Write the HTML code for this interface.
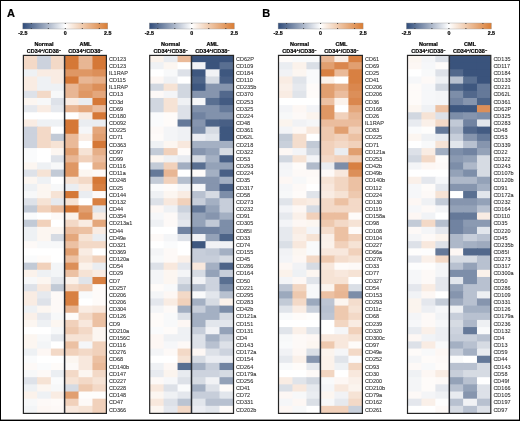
<!DOCTYPE html><html><head><meta charset="utf-8"><style>html,body{margin:0;padding:0;background:#fff;width:520px;height:421px;overflow:hidden}svg{display:block;will-change:transform}text{font-family:"Liberation Sans",sans-serif}.b{font-weight:bold;stroke:#000;stroke-width:0.2px}</style></head><body>
<svg width="520" height="421" viewBox="0 0 520 421">
<defs><linearGradient id="g" x1="0" x2="1" y1="0" y2="0"><stop offset="0" stop-color="#304c7a"/><stop offset="0.5" stop-color="#ffffff"/><stop offset="1" stop-color="#da7d34"/></linearGradient></defs>
<rect x="0" y="0" width="520" height="1" fill="#000"/>
<rect x="0" y="0" width="1" height="421" fill="#000"/>
<rect x="519" y="0" width="1" height="421" fill="#000"/>
<rect x="0" y="419.6" width="520" height="1.4" fill="#000"/>
<text class="b" x="7" y="16.9" font-size="11">A</text>
<text class="b" x="262.3" y="16.9" font-size="11">B</text>
<rect x="22.8" y="23.0" width="85.0" height="6.0" fill="url(#g)" stroke="#9a9a9a" stroke-width="0.4"/>
<rect x="30.8" y="23.0" width="1" height="0.9" fill="#333"/>
<rect x="30.8" y="28.1" width="1" height="0.9" fill="#333"/>
<rect x="47.8" y="23.0" width="1" height="0.9" fill="#333"/>
<rect x="47.8" y="28.1" width="1" height="0.9" fill="#333"/>
<rect x="64.8" y="23.0" width="1" height="0.9" fill="#333"/>
<rect x="64.8" y="28.1" width="1" height="0.9" fill="#333"/>
<rect x="81.8" y="23.0" width="1" height="0.9" fill="#333"/>
<rect x="81.8" y="28.1" width="1" height="0.9" fill="#333"/>
<rect x="98.8" y="23.0" width="1" height="0.9" fill="#333"/>
<rect x="98.8" y="28.1" width="1" height="0.9" fill="#333"/>
<text class="b" x="22.8" y="34.7" font-size="5.3" text-anchor="middle" transform="rotate(0.02 22.8 33)">-2.5</text>
<text class="b" x="65.3" y="34.7" font-size="5.3" text-anchor="middle" transform="rotate(0.02 65.3 33)">0</text>
<text class="b" x="107.8" y="34.7" font-size="5.3" text-anchor="middle" transform="rotate(0.02 107.8 33)">2.5</text>
<text class="b" x="44" y="46.3" font-size="5.5" text-anchor="middle" transform="rotate(0.02 44 44)">Normal</text>
<text class="b" x="85.5" y="46.3" font-size="5.5" text-anchor="middle" transform="rotate(0.02 85.5 44)">AML</text>
<text class="b" x="44" y="52.6" font-size="5.5" text-anchor="middle" transform="rotate(0.02 44 50)">CD34<tspan font-size="4" dy="-1.8">+</tspan><tspan dy="1.8">/CD38</tspan><tspan font-size="4" dy="-1.8">–</tspan></text>
<text class="b" x="85.5" y="52.6" font-size="5.5" text-anchor="middle" transform="rotate(0.02 85.5 50)">CD34<tspan font-size="4" dy="-1.8">+</tspan><tspan dy="1.8">/CD38</tspan><tspan font-size="4" dy="-1.8">–</tspan></text>
<rect x="23.4" y="55" width="14.53" height="7.96" fill="#f3d9c7"/>
<rect x="37.13" y="55" width="14.53" height="7.96" fill="#ccd2dd"/>
<rect x="50.87" y="55" width="14.53" height="7.96" fill="#f3d9c7"/>
<rect x="64.6" y="55" width="14.73" height="7.96" fill="#d57837"/>
<rect x="78.53" y="55" width="14.73" height="7.96" fill="#e8b694"/>
<rect x="92.47" y="55" width="13.93" height="7.96" fill="#d57837"/>
<rect x="23.4" y="62.16" width="14.53" height="7.96" fill="#f3d9c7"/>
<rect x="37.13" y="62.16" width="14.53" height="7.96" fill="#ccd2dd"/>
<rect x="50.87" y="62.16" width="14.53" height="7.96" fill="#f3d9c7"/>
<rect x="64.6" y="62.16" width="14.73" height="7.96" fill="#d57837"/>
<rect x="78.53" y="62.16" width="14.73" height="7.96" fill="#e8b694"/>
<rect x="92.47" y="62.16" width="13.93" height="7.96" fill="#d57837"/>
<rect x="23.4" y="69.32" width="14.53" height="7.96" fill="#eef1f4"/>
<rect x="37.13" y="69.32" width="14.53" height="7.96" fill="#f9ece3"/>
<rect x="50.87" y="69.32" width="14.53" height="7.96" fill="#f9ece3"/>
<rect x="64.6" y="69.32" width="14.73" height="7.96" fill="#df9764"/>
<rect x="78.53" y="69.32" width="14.73" height="7.96" fill="#df9764"/>
<rect x="92.47" y="69.32" width="13.93" height="7.96" fill="#dc8f59"/>
<rect x="23.4" y="76.48" width="14.53" height="7.96" fill="#f9ece3"/>
<rect x="37.13" y="76.48" width="14.53" height="7.96" fill="#eef1f4"/>
<rect x="50.87" y="76.48" width="14.53" height="7.96" fill="#f9ece3"/>
<rect x="64.6" y="76.48" width="14.73" height="7.96" fill="#d57837"/>
<rect x="78.53" y="76.48" width="14.73" height="7.96" fill="#e8b694"/>
<rect x="92.47" y="76.48" width="13.93" height="7.96" fill="#e6af88"/>
<rect x="23.4" y="83.64" width="14.53" height="7.96" fill="#f9ece3"/>
<rect x="37.13" y="83.64" width="14.53" height="7.96" fill="#eef1f4"/>
<rect x="50.87" y="83.64" width="14.53" height="7.96" fill="#eef1f4"/>
<rect x="64.6" y="83.64" width="14.73" height="7.96" fill="#e8b694"/>
<rect x="78.53" y="83.64" width="14.73" height="7.96" fill="#e19f70"/>
<rect x="92.47" y="83.64" width="13.93" height="7.96" fill="#dc8f59"/>
<rect x="23.4" y="90.8" width="14.53" height="7.96" fill="#dee2e9"/>
<rect x="37.13" y="90.8" width="14.53" height="7.96" fill="#f3d9c7"/>
<rect x="50.87" y="90.8" width="14.53" height="7.96" fill="#f7f8f9"/>
<rect x="64.6" y="90.8" width="14.73" height="7.96" fill="#e8b694"/>
<rect x="78.53" y="90.8" width="14.73" height="7.96" fill="#df9764"/>
<rect x="92.47" y="90.8" width="13.93" height="7.96" fill="#e4a77c"/>
<rect x="23.4" y="97.96" width="14.53" height="7.96" fill="#fcf6f1"/>
<rect x="37.13" y="97.96" width="14.53" height="7.96" fill="#f7f8f9"/>
<rect x="50.87" y="97.96" width="14.53" height="7.96" fill="#dee2e9"/>
<rect x="64.6" y="97.96" width="14.73" height="7.96" fill="#f9ece3"/>
<rect x="78.53" y="97.96" width="14.73" height="7.96" fill="#eaedf1"/>
<rect x="92.47" y="97.96" width="13.93" height="7.96" fill="#d57837"/>
<rect x="23.4" y="105.12" width="14.53" height="7.96" fill="#e6e9ee"/>
<rect x="37.13" y="105.12" width="14.53" height="7.96" fill="#f9ece3"/>
<rect x="50.87" y="105.12" width="14.53" height="7.96" fill="#e6e9ee"/>
<rect x="64.6" y="105.12" width="14.73" height="7.96" fill="#e8b694"/>
<rect x="78.53" y="105.12" width="14.73" height="7.96" fill="#e4a77c"/>
<rect x="92.47" y="105.12" width="13.93" height="7.96" fill="#ebbd9e"/>
<rect x="23.4" y="112.28" width="14.53" height="7.96" fill="#ffffff"/>
<rect x="37.13" y="112.28" width="14.53" height="7.96" fill="#ffffff"/>
<rect x="50.87" y="112.28" width="14.53" height="7.96" fill="#ffffff"/>
<rect x="64.6" y="112.28" width="14.73" height="7.96" fill="#ffffff"/>
<rect x="78.53" y="112.28" width="14.73" height="7.96" fill="#f9ece3"/>
<rect x="92.47" y="112.28" width="13.93" height="7.96" fill="#d57837"/>
<rect x="23.4" y="119.44" width="14.53" height="7.96" fill="#f9ece3"/>
<rect x="37.13" y="119.44" width="14.53" height="7.96" fill="#eef1f4"/>
<rect x="50.87" y="119.44" width="14.53" height="7.96" fill="#eef1f4"/>
<rect x="64.6" y="119.44" width="14.73" height="7.96" fill="#d57837"/>
<rect x="78.53" y="119.44" width="14.73" height="7.96" fill="#eaedf1"/>
<rect x="92.47" y="119.44" width="13.93" height="7.96" fill="#eaedf1"/>
<rect x="23.4" y="126.6" width="14.53" height="7.96" fill="#ccd2dd"/>
<rect x="37.13" y="126.6" width="14.53" height="7.96" fill="#f3d9c7"/>
<rect x="50.87" y="126.6" width="14.53" height="7.96" fill="#ffffff"/>
<rect x="64.6" y="126.6" width="14.73" height="7.96" fill="#d57837"/>
<rect x="78.53" y="126.6" width="14.73" height="7.96" fill="#f5f6f8"/>
<rect x="92.47" y="126.6" width="13.93" height="7.96" fill="#e4a77c"/>
<rect x="23.4" y="133.76" width="14.53" height="7.96" fill="#ccd2dd"/>
<rect x="37.13" y="133.76" width="14.53" height="7.96" fill="#f3d9c7"/>
<rect x="50.87" y="133.76" width="14.53" height="7.96" fill="#c2cad6"/>
<rect x="64.6" y="133.76" width="14.73" height="7.96" fill="#eaba99"/>
<rect x="78.53" y="133.76" width="14.73" height="7.96" fill="#f9ece3"/>
<rect x="92.47" y="133.76" width="13.93" height="7.96" fill="#e19f70"/>
<rect x="23.4" y="140.92" width="14.53" height="7.96" fill="#ccd2dd"/>
<rect x="37.13" y="140.92" width="14.53" height="7.96" fill="#f3d9c7"/>
<rect x="50.87" y="140.92" width="14.53" height="7.96" fill="#f6e3d5"/>
<rect x="64.6" y="140.92" width="14.73" height="7.96" fill="#eaba99"/>
<rect x="78.53" y="140.92" width="14.73" height="7.96" fill="#ffffff"/>
<rect x="92.47" y="140.92" width="13.93" height="7.96" fill="#d57837"/>
<rect x="23.4" y="148.08" width="14.53" height="7.96" fill="#fafbfc"/>
<rect x="37.13" y="148.08" width="14.53" height="7.96" fill="#ffffff"/>
<rect x="50.87" y="148.08" width="14.53" height="7.96" fill="#fcf6f1"/>
<rect x="64.6" y="148.08" width="14.73" height="7.96" fill="#e19f70"/>
<rect x="78.53" y="148.08" width="14.73" height="7.96" fill="#f6e3d5"/>
<rect x="92.47" y="148.08" width="13.93" height="7.96" fill="#e6af88"/>
<rect x="23.4" y="155.24" width="14.53" height="7.96" fill="#fafbfc"/>
<rect x="37.13" y="155.24" width="14.53" height="7.96" fill="#ffffff"/>
<rect x="50.87" y="155.24" width="14.53" height="7.96" fill="#dee2e9"/>
<rect x="64.6" y="155.24" width="14.73" height="7.96" fill="#e8b694"/>
<rect x="78.53" y="155.24" width="14.73" height="7.96" fill="#f1d1bb"/>
<rect x="92.47" y="155.24" width="13.93" height="7.96" fill="#ebbd9e"/>
<rect x="23.4" y="162.4" width="14.53" height="7.96" fill="#fcf6f1"/>
<rect x="37.13" y="162.4" width="14.53" height="7.96" fill="#eef1f4"/>
<rect x="50.87" y="162.4" width="14.53" height="7.96" fill="#f7f8f9"/>
<rect x="64.6" y="162.4" width="14.73" height="7.96" fill="#df9764"/>
<rect x="78.53" y="162.4" width="14.73" height="7.96" fill="#ffffff"/>
<rect x="92.47" y="162.4" width="13.93" height="7.96" fill="#e6af88"/>
<rect x="23.4" y="169.56" width="14.53" height="7.96" fill="#dee2e9"/>
<rect x="37.13" y="169.56" width="14.53" height="7.96" fill="#f6e3d5"/>
<rect x="50.87" y="169.56" width="14.53" height="7.96" fill="#c2cad6"/>
<rect x="64.6" y="169.56" width="14.73" height="7.96" fill="#df9764"/>
<rect x="78.53" y="169.56" width="14.73" height="7.96" fill="#fcf6f1"/>
<rect x="92.47" y="169.56" width="13.93" height="7.96" fill="#fdf9f7"/>
<rect x="23.4" y="176.72" width="14.53" height="7.96" fill="#fcf6f1"/>
<rect x="37.13" y="176.72" width="14.53" height="7.96" fill="#eef1f4"/>
<rect x="50.87" y="176.72" width="14.53" height="7.96" fill="#ffffff"/>
<rect x="64.6" y="176.72" width="14.73" height="7.96" fill="#f6e3d5"/>
<rect x="78.53" y="176.72" width="14.73" height="7.96" fill="#f3d9c7"/>
<rect x="92.47" y="176.72" width="13.93" height="7.96" fill="#d57837"/>
<rect x="23.4" y="183.88" width="14.53" height="7.96" fill="#eef1f4"/>
<rect x="37.13" y="183.88" width="14.53" height="7.96" fill="#fcf6f1"/>
<rect x="50.87" y="183.88" width="14.53" height="7.96" fill="#f7f8f9"/>
<rect x="64.6" y="183.88" width="14.73" height="7.96" fill="#eaedf1"/>
<rect x="78.53" y="183.88" width="14.73" height="7.96" fill="#f9ece3"/>
<rect x="92.47" y="183.88" width="13.93" height="7.96" fill="#d88042"/>
<rect x="23.4" y="191.04" width="14.53" height="7.96" fill="#f7f8f9"/>
<rect x="37.13" y="191.04" width="14.53" height="7.96" fill="#fcf6f1"/>
<rect x="50.87" y="191.04" width="14.53" height="7.96" fill="#f6e3d5"/>
<rect x="64.6" y="191.04" width="14.73" height="7.96" fill="#d57837"/>
<rect x="78.53" y="191.04" width="14.73" height="7.96" fill="#eaedf1"/>
<rect x="92.47" y="191.04" width="13.93" height="7.96" fill="#fdf9f7"/>
<rect x="23.4" y="198.2" width="14.53" height="7.96" fill="#dee2e9"/>
<rect x="37.13" y="198.2" width="14.53" height="7.96" fill="#f6e3d5"/>
<rect x="50.87" y="198.2" width="14.53" height="7.96" fill="#e6e9ee"/>
<rect x="64.6" y="198.2" width="14.73" height="7.96" fill="#f6e3d5"/>
<rect x="78.53" y="198.2" width="14.73" height="7.96" fill="#ffffff"/>
<rect x="92.47" y="198.2" width="13.93" height="7.96" fill="#d88042"/>
<rect x="23.4" y="205.36" width="14.53" height="7.96" fill="#c2cad6"/>
<rect x="37.13" y="205.36" width="14.53" height="7.96" fill="#f1d1bb"/>
<rect x="50.87" y="205.36" width="14.53" height="7.96" fill="#ebbd9e"/>
<rect x="64.6" y="205.36" width="14.73" height="7.96" fill="#d57837"/>
<rect x="78.53" y="205.36" width="14.73" height="7.96" fill="#e19f70"/>
<rect x="92.47" y="205.36" width="13.93" height="7.96" fill="#e0e4ea"/>
<rect x="23.4" y="212.52" width="14.53" height="7.96" fill="#fafbfc"/>
<rect x="37.13" y="212.52" width="14.53" height="7.96" fill="#ffffff"/>
<rect x="50.87" y="212.52" width="14.53" height="7.96" fill="#fdf9f7"/>
<rect x="64.6" y="212.52" width="14.73" height="7.96" fill="#fbf2eb"/>
<rect x="78.53" y="212.52" width="14.73" height="7.96" fill="#dc8f59"/>
<rect x="92.47" y="212.52" width="13.93" height="7.96" fill="#f9ece3"/>
<rect x="23.4" y="219.68" width="14.53" height="7.96" fill="#c2cad6"/>
<rect x="37.13" y="219.68" width="14.53" height="7.96" fill="#f1d1bb"/>
<rect x="50.87" y="219.68" width="14.53" height="7.96" fill="#ffffff"/>
<rect x="64.6" y="219.68" width="14.73" height="7.96" fill="#f3d9c7"/>
<rect x="78.53" y="219.68" width="14.73" height="7.96" fill="#f9ece3"/>
<rect x="92.47" y="219.68" width="13.93" height="7.96" fill="#e4a77c"/>
<rect x="23.4" y="226.84" width="14.53" height="7.96" fill="#eef1f4"/>
<rect x="37.13" y="226.84" width="14.53" height="7.96" fill="#fcf6f1"/>
<rect x="50.87" y="226.84" width="14.53" height="7.96" fill="#fcf6f1"/>
<rect x="64.6" y="226.84" width="14.73" height="7.96" fill="#ebbd9e"/>
<rect x="78.53" y="226.84" width="14.73" height="7.96" fill="#ecc1a3"/>
<rect x="92.47" y="226.84" width="13.93" height="7.96" fill="#f9ece3"/>
<rect x="23.4" y="234" width="14.53" height="7.96" fill="#eef1f4"/>
<rect x="37.13" y="234" width="14.53" height="7.96" fill="#fcf6f1"/>
<rect x="50.87" y="234" width="14.53" height="7.96" fill="#d6dbe3"/>
<rect x="64.6" y="234" width="14.73" height="7.96" fill="#e4a77c"/>
<rect x="78.53" y="234" width="14.73" height="7.96" fill="#f6e3d5"/>
<rect x="92.47" y="234" width="13.93" height="7.96" fill="#eaedf1"/>
<rect x="23.4" y="241.16" width="14.53" height="7.96" fill="#fdf9f7"/>
<rect x="37.13" y="241.16" width="14.53" height="7.96" fill="#f7f8f9"/>
<rect x="50.87" y="241.16" width="14.53" height="7.96" fill="#f7f8f9"/>
<rect x="64.6" y="241.16" width="14.73" height="7.96" fill="#ecc1a3"/>
<rect x="78.53" y="241.16" width="14.73" height="7.96" fill="#f3d9c7"/>
<rect x="92.47" y="241.16" width="13.93" height="7.96" fill="#f3d9c7"/>
<rect x="23.4" y="248.32" width="14.53" height="7.96" fill="#ffffff"/>
<rect x="37.13" y="248.32" width="14.53" height="7.96" fill="#ffffff"/>
<rect x="50.87" y="248.32" width="14.53" height="7.96" fill="#ffffff"/>
<rect x="64.6" y="248.32" width="14.73" height="7.96" fill="#e19f70"/>
<rect x="78.53" y="248.32" width="14.73" height="7.96" fill="#f9ece3"/>
<rect x="92.47" y="248.32" width="13.93" height="7.96" fill="#ffffff"/>
<rect x="23.4" y="255.48" width="14.53" height="7.96" fill="#fafbfc"/>
<rect x="37.13" y="255.48" width="14.53" height="7.96" fill="#fefbf9"/>
<rect x="50.87" y="255.48" width="14.53" height="7.96" fill="#ffffff"/>
<rect x="64.6" y="255.48" width="14.73" height="7.96" fill="#ecc1a3"/>
<rect x="78.53" y="255.48" width="14.73" height="7.96" fill="#f6e3d5"/>
<rect x="92.47" y="255.48" width="13.93" height="7.96" fill="#f1d1bb"/>
<rect x="23.4" y="262.64" width="14.53" height="7.96" fill="#c2cad6"/>
<rect x="37.13" y="262.64" width="14.53" height="7.96" fill="#f1d1bb"/>
<rect x="50.87" y="262.64" width="14.53" height="7.96" fill="#f3f5f7"/>
<rect x="64.6" y="262.64" width="14.73" height="7.96" fill="#dc8f59"/>
<rect x="78.53" y="262.64" width="14.73" height="7.96" fill="#fbf2eb"/>
<rect x="92.47" y="262.64" width="13.93" height="7.96" fill="#eaedf1"/>
<rect x="23.4" y="269.8" width="14.53" height="7.96" fill="#fbf2eb"/>
<rect x="37.13" y="269.8" width="14.53" height="7.96" fill="#eef1f4"/>
<rect x="50.87" y="269.8" width="14.53" height="7.96" fill="#f3f5f7"/>
<rect x="64.6" y="269.8" width="14.73" height="7.96" fill="#ecc1a3"/>
<rect x="78.53" y="269.8" width="14.73" height="7.96" fill="#f6e3d5"/>
<rect x="92.47" y="269.8" width="13.93" height="7.96" fill="#f9ece3"/>
<rect x="23.4" y="276.96" width="14.53" height="7.96" fill="#f7f8f9"/>
<rect x="37.13" y="276.96" width="14.53" height="7.96" fill="#fcf6f1"/>
<rect x="50.87" y="276.96" width="14.53" height="7.96" fill="#e6e9ee"/>
<rect x="64.6" y="276.96" width="14.73" height="7.96" fill="#fbf2eb"/>
<rect x="78.53" y="276.96" width="14.73" height="7.96" fill="#e0e4ea"/>
<rect x="92.47" y="276.96" width="13.93" height="7.96" fill="#d88042"/>
<rect x="23.4" y="284.12" width="14.53" height="7.96" fill="#dee2e9"/>
<rect x="37.13" y="284.12" width="14.53" height="7.96" fill="#f8e8dd"/>
<rect x="50.87" y="284.12" width="14.53" height="7.96" fill="#c2cad6"/>
<rect x="64.6" y="284.12" width="14.73" height="7.96" fill="#f3d9c7"/>
<rect x="78.53" y="284.12" width="14.73" height="7.96" fill="#f1d1bb"/>
<rect x="92.47" y="284.12" width="13.93" height="7.96" fill="#fefbf9"/>
<rect x="23.4" y="291.28" width="14.53" height="7.96" fill="#f9ece3"/>
<rect x="37.13" y="291.28" width="14.53" height="7.96" fill="#e6e9ee"/>
<rect x="50.87" y="291.28" width="14.53" height="7.96" fill="#fdf9f7"/>
<rect x="64.6" y="291.28" width="14.73" height="7.96" fill="#d88042"/>
<rect x="78.53" y="291.28" width="14.73" height="7.96" fill="#f9fafb"/>
<rect x="92.47" y="291.28" width="13.93" height="7.96" fill="#fefbf9"/>
<rect x="23.4" y="298.44" width="14.53" height="7.96" fill="#f9ece3"/>
<rect x="37.13" y="298.44" width="14.53" height="7.96" fill="#dee2e9"/>
<rect x="50.87" y="298.44" width="14.53" height="7.96" fill="#fdf9f7"/>
<rect x="64.6" y="298.44" width="14.73" height="7.96" fill="#d88042"/>
<rect x="78.53" y="298.44" width="14.73" height="7.96" fill="#ffffff"/>
<rect x="92.47" y="298.44" width="13.93" height="7.96" fill="#fefbf9"/>
<rect x="23.4" y="305.6" width="14.53" height="7.96" fill="#eef1f4"/>
<rect x="37.13" y="305.6" width="14.53" height="7.96" fill="#fcf6f1"/>
<rect x="50.87" y="305.6" width="14.53" height="7.96" fill="#fdf9f7"/>
<rect x="64.6" y="305.6" width="14.73" height="7.96" fill="#e8b694"/>
<rect x="78.53" y="305.6" width="14.73" height="7.96" fill="#f9ece3"/>
<rect x="92.47" y="305.6" width="13.93" height="7.96" fill="#f8e8dd"/>
<rect x="23.4" y="312.76" width="14.53" height="7.96" fill="#faf0e9"/>
<rect x="37.13" y="312.76" width="14.53" height="7.96" fill="#e6e9ee"/>
<rect x="50.87" y="312.76" width="14.53" height="7.96" fill="#f7f8f9"/>
<rect x="64.6" y="312.76" width="14.73" height="7.96" fill="#fefbf9"/>
<rect x="78.53" y="312.76" width="14.73" height="7.96" fill="#f3d9c7"/>
<rect x="92.47" y="312.76" width="13.93" height="7.96" fill="#ecc1a3"/>
<rect x="23.4" y="319.92" width="14.53" height="7.96" fill="#fcf6f1"/>
<rect x="37.13" y="319.92" width="14.53" height="7.96" fill="#eef1f4"/>
<rect x="50.87" y="319.92" width="14.53" height="7.96" fill="#fcf6f1"/>
<rect x="64.6" y="319.92" width="14.73" height="7.96" fill="#f1d1bb"/>
<rect x="78.53" y="319.92" width="14.73" height="7.96" fill="#f8e8dd"/>
<rect x="92.47" y="319.92" width="13.93" height="7.96" fill="#ecc1a3"/>
<rect x="23.4" y="327.08" width="14.53" height="7.96" fill="#ffffff"/>
<rect x="37.13" y="327.08" width="14.53" height="7.96" fill="#ffffff"/>
<rect x="50.87" y="327.08" width="14.53" height="7.96" fill="#f7f8f9"/>
<rect x="64.6" y="327.08" width="14.73" height="7.96" fill="#eec9af"/>
<rect x="78.53" y="327.08" width="14.73" height="7.96" fill="#f3d9c7"/>
<rect x="92.47" y="327.08" width="13.93" height="7.96" fill="#fcf6f1"/>
<rect x="23.4" y="334.24" width="14.53" height="7.96" fill="#fcf6f1"/>
<rect x="37.13" y="334.24" width="14.53" height="7.96" fill="#f7f8f9"/>
<rect x="50.87" y="334.24" width="14.53" height="7.96" fill="#e6e9ee"/>
<rect x="64.6" y="334.24" width="14.73" height="7.96" fill="#f6e3d5"/>
<rect x="78.53" y="334.24" width="14.73" height="7.96" fill="#f6e3d5"/>
<rect x="92.47" y="334.24" width="13.93" height="7.96" fill="#fcf6f1"/>
<rect x="23.4" y="341.4" width="14.53" height="7.96" fill="#fcf6f1"/>
<rect x="37.13" y="341.4" width="14.53" height="7.96" fill="#f3f5f7"/>
<rect x="50.87" y="341.4" width="14.53" height="7.96" fill="#ffffff"/>
<rect x="64.6" y="341.4" width="14.73" height="7.96" fill="#ecc1a3"/>
<rect x="78.53" y="341.4" width="14.73" height="7.96" fill="#f5f6f8"/>
<rect x="92.47" y="341.4" width="13.93" height="7.96" fill="#f1d1bb"/>
<rect x="23.4" y="348.56" width="14.53" height="7.96" fill="#eef1f4"/>
<rect x="37.13" y="348.56" width="14.53" height="7.96" fill="#fdf7f4"/>
<rect x="50.87" y="348.56" width="14.53" height="7.96" fill="#f3d9c7"/>
<rect x="64.6" y="348.56" width="14.73" height="7.96" fill="#f1d1bb"/>
<rect x="78.53" y="348.56" width="14.73" height="7.96" fill="#f3d9c7"/>
<rect x="92.47" y="348.56" width="13.93" height="7.96" fill="#f1d1bb"/>
<rect x="23.4" y="355.72" width="14.53" height="7.96" fill="#fafbfc"/>
<rect x="37.13" y="355.72" width="14.53" height="7.96" fill="#ffffff"/>
<rect x="50.87" y="355.72" width="14.53" height="7.96" fill="#ffffff"/>
<rect x="64.6" y="355.72" width="14.73" height="7.96" fill="#fcf6f1"/>
<rect x="78.53" y="355.72" width="14.73" height="7.96" fill="#f8e8dd"/>
<rect x="92.47" y="355.72" width="13.93" height="7.96" fill="#ecc1a3"/>
<rect x="23.4" y="362.88" width="14.53" height="7.96" fill="#fdf9f7"/>
<rect x="37.13" y="362.88" width="14.53" height="7.96" fill="#fafbfc"/>
<rect x="50.87" y="362.88" width="14.53" height="7.96" fill="#fefbf9"/>
<rect x="64.6" y="362.88" width="14.73" height="7.96" fill="#fdf9f7"/>
<rect x="78.53" y="362.88" width="14.73" height="7.96" fill="#f8e8dd"/>
<rect x="92.47" y="362.88" width="13.93" height="7.96" fill="#eaba99"/>
<rect x="23.4" y="370.04" width="14.53" height="7.96" fill="#f7f8f9"/>
<rect x="37.13" y="370.04" width="14.53" height="7.96" fill="#fdf9f7"/>
<rect x="50.87" y="370.04" width="14.53" height="7.96" fill="#ebeef2"/>
<rect x="64.6" y="370.04" width="14.73" height="7.96" fill="#f3d9c7"/>
<rect x="78.53" y="370.04" width="14.73" height="7.96" fill="#fcf6f1"/>
<rect x="92.47" y="370.04" width="13.93" height="7.96" fill="#f3d9c7"/>
<rect x="23.4" y="377.2" width="14.53" height="7.96" fill="#dee2e9"/>
<rect x="37.13" y="377.2" width="14.53" height="7.96" fill="#f6e3d5"/>
<rect x="50.87" y="377.2" width="14.53" height="7.96" fill="#fafbfc"/>
<rect x="64.6" y="377.2" width="14.73" height="7.96" fill="#f6e3d5"/>
<rect x="78.53" y="377.2" width="14.73" height="7.96" fill="#f3d9c7"/>
<rect x="92.47" y="377.2" width="13.93" height="7.96" fill="#f6e3d5"/>
<rect x="23.4" y="384.36" width="14.53" height="7.96" fill="#eef1f4"/>
<rect x="37.13" y="384.36" width="14.53" height="7.96" fill="#fcf6f1"/>
<rect x="50.87" y="384.36" width="14.53" height="7.96" fill="#f7f8f9"/>
<rect x="64.6" y="384.36" width="14.73" height="7.96" fill="#d6dbe3"/>
<rect x="78.53" y="384.36" width="14.73" height="7.96" fill="#eec9af"/>
<rect x="92.47" y="384.36" width="13.93" height="7.96" fill="#f3d9c7"/>
<rect x="23.4" y="391.52" width="14.53" height="7.96" fill="#fbf2eb"/>
<rect x="37.13" y="391.52" width="14.53" height="7.96" fill="#eef1f4"/>
<rect x="50.87" y="391.52" width="14.53" height="7.96" fill="#f9ece3"/>
<rect x="64.6" y="391.52" width="14.73" height="7.96" fill="#e19f70"/>
<rect x="78.53" y="391.52" width="14.73" height="7.96" fill="#fefdfc"/>
<rect x="92.47" y="391.52" width="13.93" height="7.96" fill="#fefdfc"/>
<rect x="23.4" y="398.68" width="14.53" height="7.96" fill="#f7f8f9"/>
<rect x="37.13" y="398.68" width="14.53" height="7.96" fill="#fdf9f7"/>
<rect x="50.87" y="398.68" width="14.53" height="7.96" fill="#fefbf9"/>
<rect x="64.6" y="398.68" width="14.73" height="7.96" fill="#f1d1bb"/>
<rect x="78.53" y="398.68" width="14.73" height="7.96" fill="#fdf9f7"/>
<rect x="92.47" y="398.68" width="13.93" height="7.96" fill="#f1d1bb"/>
<rect x="23.4" y="405.84" width="14.53" height="7.16" fill="#f3f5f7"/>
<rect x="37.13" y="405.84" width="14.53" height="7.16" fill="#fdf7f4"/>
<rect x="50.87" y="405.84" width="14.53" height="7.16" fill="#fdf9f7"/>
<rect x="64.6" y="405.84" width="14.73" height="7.16" fill="#f8e8dd"/>
<rect x="78.53" y="405.84" width="14.73" height="7.16" fill="#f6e3d5"/>
<rect x="92.47" y="405.84" width="13.93" height="7.16" fill="#f1d1bb"/>
<rect x="23.4" y="55.4" width="83" height="358" fill="none" stroke="#262626" stroke-width="1.2"/>
<rect x="63.85" y="55" width="1.5" height="358.8" fill="#2a2d33"/>
<text x="109" y="60.68" font-size="5.5" fill="#2e2e2e" stroke="#2e2e2e" stroke-width="0.08" transform="rotate(0.02 109 58.58)">CD123</text>
<text x="109" y="67.84" font-size="5.5" fill="#2e2e2e" stroke="#2e2e2e" stroke-width="0.08" transform="rotate(0.02 109 65.74)">CD123</text>
<text x="109" y="75" font-size="5.5" fill="#2e2e2e" stroke="#2e2e2e" stroke-width="0.08" transform="rotate(0.02 109 72.9)">IL1RAP</text>
<text x="109" y="82.16" font-size="5.5" fill="#2e2e2e" stroke="#2e2e2e" stroke-width="0.08" transform="rotate(0.02 109 80.06)">CD115</text>
<text x="109" y="89.32" font-size="5.5" fill="#2e2e2e" stroke="#2e2e2e" stroke-width="0.08" transform="rotate(0.02 109 87.22)">IL1RAP</text>
<text x="109" y="96.48" font-size="5.5" fill="#2e2e2e" stroke="#2e2e2e" stroke-width="0.08" transform="rotate(0.02 109 94.38)">CD13</text>
<text x="109" y="103.64" font-size="5.5" fill="#2e2e2e" stroke="#2e2e2e" stroke-width="0.08" transform="rotate(0.02 109 101.54)">CD3d</text>
<text x="109" y="110.8" font-size="5.5" fill="#2e2e2e" stroke="#2e2e2e" stroke-width="0.08" transform="rotate(0.02 109 108.7)">CD69</text>
<text x="109" y="117.96" font-size="5.5" fill="#2e2e2e" stroke="#2e2e2e" stroke-width="0.08" transform="rotate(0.02 109 115.86)">CD180</text>
<text x="109" y="125.12" font-size="5.5" fill="#2e2e2e" stroke="#2e2e2e" stroke-width="0.08" transform="rotate(0.02 109 123.02)">CD092</text>
<text x="109" y="132.28" font-size="5.5" fill="#2e2e2e" stroke="#2e2e2e" stroke-width="0.08" transform="rotate(0.02 109 130.18)">CD225</text>
<text x="109" y="139.44" font-size="5.5" fill="#2e2e2e" stroke="#2e2e2e" stroke-width="0.08" transform="rotate(0.02 109 137.34)">CD71</text>
<text x="109" y="146.6" font-size="5.5" fill="#2e2e2e" stroke="#2e2e2e" stroke-width="0.08" transform="rotate(0.02 109 144.5)">CD363</text>
<text x="109" y="153.76" font-size="5.5" fill="#2e2e2e" stroke="#2e2e2e" stroke-width="0.08" transform="rotate(0.02 109 151.66)">CD97</text>
<text x="109" y="160.92" font-size="5.5" fill="#2e2e2e" stroke="#2e2e2e" stroke-width="0.08" transform="rotate(0.02 109 158.82)">CD99</text>
<text x="109" y="168.08" font-size="5.5" fill="#2e2e2e" stroke="#2e2e2e" stroke-width="0.08" transform="rotate(0.02 109 165.98)">CD116</text>
<text x="109" y="175.24" font-size="5.5" fill="#2e2e2e" stroke="#2e2e2e" stroke-width="0.08" transform="rotate(0.02 109 173.14)">CD11a</text>
<text x="109" y="182.4" font-size="5.5" fill="#2e2e2e" stroke="#2e2e2e" stroke-width="0.08" transform="rotate(0.02 109 180.3)">CD248</text>
<text x="109" y="189.56" font-size="5.5" fill="#2e2e2e" stroke="#2e2e2e" stroke-width="0.08" transform="rotate(0.02 109 187.46)">CD25</text>
<text x="109" y="196.72" font-size="5.5" fill="#2e2e2e" stroke="#2e2e2e" stroke-width="0.08" transform="rotate(0.02 109 194.62)">CD144</text>
<text x="109" y="203.88" font-size="5.5" fill="#2e2e2e" stroke="#2e2e2e" stroke-width="0.08" transform="rotate(0.02 109 201.78)">CD132</text>
<text x="109" y="211.04" font-size="5.5" fill="#2e2e2e" stroke="#2e2e2e" stroke-width="0.08" transform="rotate(0.02 109 208.94)">CD44</text>
<text x="109" y="218.2" font-size="5.5" fill="#2e2e2e" stroke="#2e2e2e" stroke-width="0.08" transform="rotate(0.02 109 216.1)">CD354</text>
<text x="109" y="225.36" font-size="5.5" fill="#2e2e2e" stroke="#2e2e2e" stroke-width="0.08" transform="rotate(0.02 109 223.26)">CD213a1</text>
<text x="109" y="232.52" font-size="5.5" fill="#2e2e2e" stroke="#2e2e2e" stroke-width="0.08" transform="rotate(0.02 109 230.42)">CD44</text>
<text x="109" y="239.68" font-size="5.5" fill="#2e2e2e" stroke="#2e2e2e" stroke-width="0.08" transform="rotate(0.02 109 237.58)">CD49e</text>
<text x="109" y="246.84" font-size="5.5" fill="#2e2e2e" stroke="#2e2e2e" stroke-width="0.08" transform="rotate(0.02 109 244.74)">CD321</text>
<text x="109" y="254" font-size="5.5" fill="#2e2e2e" stroke="#2e2e2e" stroke-width="0.08" transform="rotate(0.02 109 251.9)">CD369</text>
<text x="109" y="261.16" font-size="5.5" fill="#2e2e2e" stroke="#2e2e2e" stroke-width="0.08" transform="rotate(0.02 109 259.06)">CD120a</text>
<text x="109" y="268.32" font-size="5.5" fill="#2e2e2e" stroke="#2e2e2e" stroke-width="0.08" transform="rotate(0.02 109 266.22)">CD54</text>
<text x="109" y="275.48" font-size="5.5" fill="#2e2e2e" stroke="#2e2e2e" stroke-width="0.08" transform="rotate(0.02 109 273.38)">CD29</text>
<text x="109" y="282.64" font-size="5.5" fill="#2e2e2e" stroke="#2e2e2e" stroke-width="0.08" transform="rotate(0.02 109 280.54)">CD7</text>
<text x="109" y="289.8" font-size="5.5" fill="#2e2e2e" stroke="#2e2e2e" stroke-width="0.08" transform="rotate(0.02 109 287.7)">CD257</text>
<text x="109" y="296.96" font-size="5.5" fill="#2e2e2e" stroke="#2e2e2e" stroke-width="0.08" transform="rotate(0.02 109 294.86)">CD206</text>
<text x="109" y="304.12" font-size="5.5" fill="#2e2e2e" stroke="#2e2e2e" stroke-width="0.08" transform="rotate(0.02 109 302.02)">CD206</text>
<text x="109" y="311.28" font-size="5.5" fill="#2e2e2e" stroke="#2e2e2e" stroke-width="0.08" transform="rotate(0.02 109 309.18)">CD304</text>
<text x="109" y="318.44" font-size="5.5" fill="#2e2e2e" stroke="#2e2e2e" stroke-width="0.08" transform="rotate(0.02 109 316.34)">CD126</text>
<text x="109" y="325.6" font-size="5.5" fill="#2e2e2e" stroke="#2e2e2e" stroke-width="0.08" transform="rotate(0.02 109 323.5)">CD9</text>
<text x="109" y="332.76" font-size="5.5" fill="#2e2e2e" stroke="#2e2e2e" stroke-width="0.08" transform="rotate(0.02 109 330.66)">CD210a</text>
<text x="109" y="339.92" font-size="5.5" fill="#2e2e2e" stroke="#2e2e2e" stroke-width="0.08" transform="rotate(0.02 109 337.82)">CD156C</text>
<text x="109" y="347.08" font-size="5.5" fill="#2e2e2e" stroke="#2e2e2e" stroke-width="0.08" transform="rotate(0.02 109 344.98)">CD116</text>
<text x="109" y="354.24" font-size="5.5" fill="#2e2e2e" stroke="#2e2e2e" stroke-width="0.08" transform="rotate(0.02 109 352.14)">CD276</text>
<text x="109" y="361.4" font-size="5.5" fill="#2e2e2e" stroke="#2e2e2e" stroke-width="0.08" transform="rotate(0.02 109 359.3)">CD68</text>
<text x="109" y="368.56" font-size="5.5" fill="#2e2e2e" stroke="#2e2e2e" stroke-width="0.08" transform="rotate(0.02 109 366.46)">CD140b</text>
<text x="109" y="375.72" font-size="5.5" fill="#2e2e2e" stroke="#2e2e2e" stroke-width="0.08" transform="rotate(0.02 109 373.62)">CD147</text>
<text x="109" y="382.88" font-size="5.5" fill="#2e2e2e" stroke="#2e2e2e" stroke-width="0.08" transform="rotate(0.02 109 380.78)">CD227</text>
<text x="109" y="390.04" font-size="5.5" fill="#2e2e2e" stroke="#2e2e2e" stroke-width="0.08" transform="rotate(0.02 109 387.94)">CD228</text>
<text x="109" y="397.2" font-size="5.5" fill="#2e2e2e" stroke="#2e2e2e" stroke-width="0.08" transform="rotate(0.02 109 395.1)">CD148</text>
<text x="109" y="404.36" font-size="5.5" fill="#2e2e2e" stroke="#2e2e2e" stroke-width="0.08" transform="rotate(0.02 109 402.26)">CD47</text>
<text x="109" y="411.52" font-size="5.5" fill="#2e2e2e" stroke="#2e2e2e" stroke-width="0.08" transform="rotate(0.02 109 409.42)">CD366</text>
<rect x="149.3" y="23.0" width="85.0" height="6.0" fill="url(#g)" stroke="#9a9a9a" stroke-width="0.4"/>
<rect x="157.3" y="23.0" width="1" height="0.9" fill="#333"/>
<rect x="157.3" y="28.1" width="1" height="0.9" fill="#333"/>
<rect x="174.3" y="23.0" width="1" height="0.9" fill="#333"/>
<rect x="174.3" y="28.1" width="1" height="0.9" fill="#333"/>
<rect x="191.3" y="23.0" width="1" height="0.9" fill="#333"/>
<rect x="191.3" y="28.1" width="1" height="0.9" fill="#333"/>
<rect x="208.3" y="23.0" width="1" height="0.9" fill="#333"/>
<rect x="208.3" y="28.1" width="1" height="0.9" fill="#333"/>
<rect x="225.3" y="23.0" width="1" height="0.9" fill="#333"/>
<rect x="225.3" y="28.1" width="1" height="0.9" fill="#333"/>
<text class="b" x="149.3" y="34.7" font-size="5.3" text-anchor="middle" transform="rotate(0.02 149.3 33)">-2.5</text>
<text class="b" x="191.8" y="34.7" font-size="5.3" text-anchor="middle" transform="rotate(0.02 191.8 33)">0</text>
<text class="b" x="234.3" y="34.7" font-size="5.3" text-anchor="middle" transform="rotate(0.02 234.3 33)">2.5</text>
<text class="b" x="170.6" y="46.3" font-size="5.5" text-anchor="middle" transform="rotate(0.02 170.6 44)">Normal</text>
<text class="b" x="212.5" y="46.3" font-size="5.5" text-anchor="middle" transform="rotate(0.02 212.5 44)">AML</text>
<text class="b" x="170.6" y="52.6" font-size="5.5" text-anchor="middle" transform="rotate(0.02 170.6 50)">CD34<tspan font-size="4" dy="-1.8">+</tspan><tspan dy="1.8">/CD38</tspan><tspan font-size="4" dy="-1.8">–</tspan></text>
<text class="b" x="212.5" y="52.6" font-size="5.5" text-anchor="middle" transform="rotate(0.02 212.5 50)">CD34<tspan font-size="4" dy="-1.8">+</tspan><tspan dy="1.8">/CD38</tspan><tspan font-size="4" dy="-1.8">–</tspan></text>
<rect x="149.7" y="55" width="14.73" height="7.96" fill="#fbf2eb"/>
<rect x="163.63" y="55" width="14.73" height="7.96" fill="#e8ebf0"/>
<rect x="177.57" y="55" width="14.73" height="7.96" fill="#eaba99"/>
<rect x="191.5" y="55" width="14.8" height="7.96" fill="#3a537c"/>
<rect x="205.5" y="55" width="14.8" height="7.96" fill="#3a537c"/>
<rect x="219.5" y="55" width="14" height="7.96" fill="#3a537c"/>
<rect x="149.7" y="62.16" width="14.73" height="7.96" fill="#eff1f4"/>
<rect x="163.63" y="62.16" width="14.73" height="7.96" fill="#fcf6f1"/>
<rect x="177.57" y="62.16" width="14.73" height="7.96" fill="#ffffff"/>
<rect x="191.5" y="62.16" width="14.8" height="7.96" fill="#f1f2f5"/>
<rect x="205.5" y="62.16" width="14.8" height="7.96" fill="#3a537c"/>
<rect x="219.5" y="62.16" width="14" height="7.96" fill="#596f91"/>
<rect x="149.7" y="69.32" width="14.73" height="7.96" fill="#ffffff"/>
<rect x="163.63" y="69.32" width="14.73" height="7.96" fill="#f8f9fa"/>
<rect x="177.57" y="69.32" width="14.73" height="7.96" fill="#dde1e8"/>
<rect x="191.5" y="69.32" width="14.8" height="7.96" fill="#3e577f"/>
<rect x="205.5" y="69.32" width="14.8" height="7.96" fill="#f1f2f5"/>
<rect x="219.5" y="69.32" width="14" height="7.96" fill="#3e577f"/>
<rect x="149.7" y="76.48" width="14.73" height="7.96" fill="#fdf7f4"/>
<rect x="163.63" y="76.48" width="14.73" height="7.96" fill="#eff1f4"/>
<rect x="177.57" y="76.48" width="14.73" height="7.96" fill="#ffffff"/>
<rect x="191.5" y="76.48" width="14.8" height="7.96" fill="#4d6488"/>
<rect x="205.5" y="76.48" width="14.8" height="7.96" fill="#d6dbe3"/>
<rect x="219.5" y="76.48" width="14" height="7.96" fill="#485f85"/>
<rect x="149.7" y="83.64" width="14.73" height="7.96" fill="#d1d7e0"/>
<rect x="163.63" y="83.64" width="14.73" height="7.96" fill="#f6e3d5"/>
<rect x="177.57" y="83.64" width="14.73" height="7.96" fill="#d1d7e0"/>
<rect x="191.5" y="83.64" width="14.8" height="7.96" fill="#3e577f"/>
<rect x="205.5" y="83.64" width="14.8" height="7.96" fill="#8695ae"/>
<rect x="219.5" y="83.64" width="14" height="7.96" fill="#8695ae"/>
<rect x="149.7" y="90.8" width="14.73" height="7.96" fill="#fdf9f7"/>
<rect x="163.63" y="90.8" width="14.73" height="7.96" fill="#f4f5f7"/>
<rect x="177.57" y="90.8" width="14.73" height="7.96" fill="#d1d7e0"/>
<rect x="191.5" y="90.8" width="14.8" height="7.96" fill="#8695ae"/>
<rect x="205.5" y="90.8" width="14.8" height="7.96" fill="#8695ae"/>
<rect x="219.5" y="90.8" width="14" height="7.96" fill="#52688c"/>
<rect x="149.7" y="97.96" width="14.73" height="7.96" fill="#d1d7e0"/>
<rect x="163.63" y="97.96" width="14.73" height="7.96" fill="#f6e3d5"/>
<rect x="177.57" y="97.96" width="14.73" height="7.96" fill="#eff1f4"/>
<rect x="191.5" y="97.96" width="14.8" height="7.96" fill="#f6f7f9"/>
<rect x="205.5" y="97.96" width="14.8" height="7.96" fill="#596f91"/>
<rect x="219.5" y="97.96" width="14" height="7.96" fill="#435b82"/>
<rect x="149.7" y="105.12" width="14.73" height="7.96" fill="#d1d7e0"/>
<rect x="163.63" y="105.12" width="14.73" height="7.96" fill="#f6e3d5"/>
<rect x="177.57" y="105.12" width="14.73" height="7.96" fill="#dde1e8"/>
<rect x="191.5" y="105.12" width="14.8" height="7.96" fill="#8292ac"/>
<rect x="205.5" y="105.12" width="14.8" height="7.96" fill="#8292ac"/>
<rect x="219.5" y="105.12" width="14" height="7.96" fill="#657999"/>
<rect x="149.7" y="112.28" width="14.73" height="7.96" fill="#fafbfc"/>
<rect x="163.63" y="112.28" width="14.73" height="7.96" fill="#fefbf9"/>
<rect x="177.57" y="112.28" width="14.73" height="7.96" fill="#dde1e8"/>
<rect x="191.5" y="112.28" width="14.8" height="7.96" fill="#7183a1"/>
<rect x="205.5" y="112.28" width="14.8" height="7.96" fill="#8292ac"/>
<rect x="219.5" y="112.28" width="14" height="7.96" fill="#8292ac"/>
<rect x="149.7" y="119.44" width="14.73" height="7.96" fill="#fafbfc"/>
<rect x="163.63" y="119.44" width="14.73" height="7.96" fill="#fefbf9"/>
<rect x="177.57" y="119.44" width="14.73" height="7.96" fill="#657999"/>
<rect x="191.5" y="119.44" width="14.8" height="7.96" fill="#8695ae"/>
<rect x="205.5" y="119.44" width="14.8" height="7.96" fill="#4d6488"/>
<rect x="219.5" y="119.44" width="14" height="7.96" fill="#485f85"/>
<rect x="149.7" y="126.6" width="14.73" height="7.96" fill="#fdf9f7"/>
<rect x="163.63" y="126.6" width="14.73" height="7.96" fill="#f4f5f7"/>
<rect x="177.57" y="126.6" width="14.73" height="7.96" fill="#eff1f4"/>
<rect x="191.5" y="126.6" width="14.8" height="7.96" fill="#7d8ea9"/>
<rect x="205.5" y="126.6" width="14.8" height="7.96" fill="#d6dbe3"/>
<rect x="219.5" y="126.6" width="14" height="7.96" fill="#3e577f"/>
<rect x="149.7" y="133.76" width="14.73" height="7.96" fill="#fefbf9"/>
<rect x="163.63" y="133.76" width="14.73" height="7.96" fill="#f4f5f7"/>
<rect x="177.57" y="133.76" width="14.73" height="7.96" fill="#eff1f4"/>
<rect x="191.5" y="133.76" width="14.8" height="7.96" fill="#ebedf2"/>
<rect x="205.5" y="133.76" width="14.8" height="7.96" fill="#e2e6ec"/>
<rect x="219.5" y="133.76" width="14" height="7.96" fill="#3e577f"/>
<rect x="149.7" y="140.92" width="14.73" height="7.96" fill="#eff1f4"/>
<rect x="163.63" y="140.92" width="14.73" height="7.96" fill="#fcf6f1"/>
<rect x="177.57" y="140.92" width="14.73" height="7.96" fill="#f8e8dd"/>
<rect x="191.5" y="140.92" width="14.8" height="7.96" fill="#a4b0c3"/>
<rect x="205.5" y="140.92" width="14.8" height="7.96" fill="#a4b0c3"/>
<rect x="219.5" y="140.92" width="14" height="7.96" fill="#a4b0c3"/>
<rect x="149.7" y="148.08" width="14.73" height="7.96" fill="#c3cbd7"/>
<rect x="163.63" y="148.08" width="14.73" height="7.96" fill="#f1d1bb"/>
<rect x="177.57" y="148.08" width="14.73" height="7.96" fill="#fefbf9"/>
<rect x="191.5" y="148.08" width="14.8" height="7.96" fill="#8695ae"/>
<rect x="205.5" y="148.08" width="14.8" height="7.96" fill="#94a2b8"/>
<rect x="219.5" y="148.08" width="14" height="7.96" fill="#d6dbe3"/>
<rect x="149.7" y="155.24" width="14.73" height="7.96" fill="#fcf6f1"/>
<rect x="163.63" y="155.24" width="14.73" height="7.96" fill="#eff1f4"/>
<rect x="177.57" y="155.24" width="14.73" height="7.96" fill="#e8ebf0"/>
<rect x="191.5" y="155.24" width="14.8" height="7.96" fill="#d6dbe3"/>
<rect x="205.5" y="155.24" width="14.8" height="7.96" fill="#a4b0c3"/>
<rect x="219.5" y="155.24" width="14" height="7.96" fill="#485f85"/>
<rect x="149.7" y="162.4" width="14.73" height="7.96" fill="#c3cbd7"/>
<rect x="163.63" y="162.4" width="14.73" height="7.96" fill="#f1d1bb"/>
<rect x="177.57" y="162.4" width="14.73" height="7.96" fill="#a2aec1"/>
<rect x="191.5" y="162.4" width="14.8" height="7.96" fill="#596f91"/>
<rect x="205.5" y="162.4" width="14.8" height="7.96" fill="#94a2b8"/>
<rect x="219.5" y="162.4" width="14" height="7.96" fill="#94a2b8"/>
<rect x="149.7" y="169.56" width="14.73" height="7.96" fill="#657999"/>
<rect x="163.63" y="169.56" width="14.73" height="7.96" fill="#e8b694"/>
<rect x="177.57" y="169.56" width="14.73" height="7.96" fill="#ffffff"/>
<rect x="191.5" y="169.56" width="14.8" height="7.96" fill="#fefbf9"/>
<rect x="205.5" y="169.56" width="14.8" height="7.96" fill="#a4b0c3"/>
<rect x="219.5" y="169.56" width="14" height="7.96" fill="#485f85"/>
<rect x="149.7" y="176.72" width="14.73" height="7.96" fill="#c3cbd7"/>
<rect x="163.63" y="176.72" width="14.73" height="7.96" fill="#f1d1bb"/>
<rect x="177.57" y="176.72" width="14.73" height="7.96" fill="#b5bfce"/>
<rect x="191.5" y="176.72" width="14.8" height="7.96" fill="#8695ae"/>
<rect x="205.5" y="176.72" width="14.8" height="7.96" fill="#8695ae"/>
<rect x="219.5" y="176.72" width="14" height="7.96" fill="#a4b0c3"/>
<rect x="149.7" y="183.88" width="14.73" height="7.96" fill="#fafbfc"/>
<rect x="163.63" y="183.88" width="14.73" height="7.96" fill="#fefbf9"/>
<rect x="177.57" y="183.88" width="14.73" height="7.96" fill="#f4f5f7"/>
<rect x="191.5" y="183.88" width="14.8" height="7.96" fill="#f6f7f9"/>
<rect x="205.5" y="183.88" width="14.8" height="7.96" fill="#8695ae"/>
<rect x="219.5" y="183.88" width="14" height="7.96" fill="#485f85"/>
<rect x="149.7" y="191.04" width="14.73" height="7.96" fill="#eff1f4"/>
<rect x="163.63" y="191.04" width="14.73" height="7.96" fill="#fcf6f1"/>
<rect x="177.57" y="191.04" width="14.73" height="7.96" fill="#f9ece3"/>
<rect x="191.5" y="191.04" width="14.8" height="7.96" fill="#b8c1d0"/>
<rect x="205.5" y="191.04" width="14.8" height="7.96" fill="#d6dbe3"/>
<rect x="219.5" y="191.04" width="14" height="7.96" fill="#7d8ea9"/>
<rect x="149.7" y="198.2" width="14.73" height="7.96" fill="#dde1e8"/>
<rect x="163.63" y="198.2" width="14.73" height="7.96" fill="#f8e8dd"/>
<rect x="177.57" y="198.2" width="14.73" height="7.96" fill="#f1d1bb"/>
<rect x="191.5" y="198.2" width="14.8" height="7.96" fill="#c7ceda"/>
<rect x="205.5" y="198.2" width="14.8" height="7.96" fill="#a4b0c3"/>
<rect x="219.5" y="198.2" width="14" height="7.96" fill="#c7ceda"/>
<rect x="149.7" y="205.36" width="14.73" height="7.96" fill="#fdf7f4"/>
<rect x="163.63" y="205.36" width="14.73" height="7.96" fill="#eff1f4"/>
<rect x="177.57" y="205.36" width="14.73" height="7.96" fill="#cbd2dd"/>
<rect x="191.5" y="205.36" width="14.8" height="7.96" fill="#657999"/>
<rect x="205.5" y="205.36" width="14.8" height="7.96" fill="#94a2b8"/>
<rect x="219.5" y="205.36" width="14" height="7.96" fill="#c7ceda"/>
<rect x="149.7" y="212.52" width="14.73" height="7.96" fill="#f6f7f9"/>
<rect x="163.63" y="212.52" width="14.73" height="7.96" fill="#fdf9f7"/>
<rect x="177.57" y="212.52" width="14.73" height="7.96" fill="#dde1e8"/>
<rect x="191.5" y="212.52" width="14.8" height="7.96" fill="#94a2b8"/>
<rect x="205.5" y="212.52" width="14.8" height="7.96" fill="#8695ae"/>
<rect x="219.5" y="212.52" width="14" height="7.96" fill="#a4b0c3"/>
<rect x="149.7" y="219.68" width="14.73" height="7.96" fill="#eff1f4"/>
<rect x="163.63" y="219.68" width="14.73" height="7.96" fill="#fdf9f7"/>
<rect x="177.57" y="219.68" width="14.73" height="7.96" fill="#e4e7ed"/>
<rect x="191.5" y="219.68" width="14.8" height="7.96" fill="#94a2b8"/>
<rect x="205.5" y="219.68" width="14.8" height="7.96" fill="#c1c9d6"/>
<rect x="219.5" y="219.68" width="14" height="7.96" fill="#7d8ea9"/>
<rect x="149.7" y="226.84" width="14.73" height="7.96" fill="#ffffff"/>
<rect x="163.63" y="226.84" width="14.73" height="7.96" fill="#ffffff"/>
<rect x="177.57" y="226.84" width="14.73" height="7.96" fill="#7183a1"/>
<rect x="191.5" y="226.84" width="14.8" height="7.96" fill="#7183a1"/>
<rect x="205.5" y="226.84" width="14.8" height="7.96" fill="#7183a1"/>
<rect x="219.5" y="226.84" width="14" height="7.96" fill="#7d8ea9"/>
<rect x="149.7" y="234" width="14.73" height="7.96" fill="#fdf9f7"/>
<rect x="163.63" y="234" width="14.73" height="7.96" fill="#f4f5f7"/>
<rect x="177.57" y="234" width="14.73" height="7.96" fill="#dde1e8"/>
<rect x="191.5" y="234" width="14.8" height="7.96" fill="#f1f2f5"/>
<rect x="205.5" y="234" width="14.8" height="7.96" fill="#94a2b8"/>
<rect x="219.5" y="234" width="14" height="7.96" fill="#4d6488"/>
<rect x="149.7" y="241.16" width="14.73" height="7.96" fill="#ffffff"/>
<rect x="163.63" y="241.16" width="14.73" height="7.96" fill="#fafbfc"/>
<rect x="177.57" y="241.16" width="14.73" height="7.96" fill="#ffffff"/>
<rect x="191.5" y="241.16" width="14.8" height="7.96" fill="#3e577f"/>
<rect x="205.5" y="241.16" width="14.8" height="7.96" fill="#f1f2f5"/>
<rect x="219.5" y="241.16" width="14" height="7.96" fill="#f1f2f5"/>
<rect x="149.7" y="248.32" width="14.73" height="7.96" fill="#f4f5f7"/>
<rect x="163.63" y="248.32" width="14.73" height="7.96" fill="#fdf9f7"/>
<rect x="177.57" y="248.32" width="14.73" height="7.96" fill="#ffffff"/>
<rect x="191.5" y="248.32" width="14.8" height="7.96" fill="#c7ceda"/>
<rect x="205.5" y="248.32" width="14.8" height="7.96" fill="#c1c9d6"/>
<rect x="219.5" y="248.32" width="14" height="7.96" fill="#a4b0c3"/>
<rect x="149.7" y="255.48" width="14.73" height="7.96" fill="#f8f9fa"/>
<rect x="163.63" y="255.48" width="14.73" height="7.96" fill="#fdf9f7"/>
<rect x="177.57" y="255.48" width="14.73" height="7.96" fill="#faf0e9"/>
<rect x="191.5" y="255.48" width="14.8" height="7.96" fill="#c7ceda"/>
<rect x="205.5" y="255.48" width="14.8" height="7.96" fill="#c7ceda"/>
<rect x="219.5" y="255.48" width="14" height="7.96" fill="#d6dbe3"/>
<rect x="149.7" y="262.64" width="14.73" height="7.96" fill="#dde1e8"/>
<rect x="163.63" y="262.64" width="14.73" height="7.96" fill="#f8e8dd"/>
<rect x="177.57" y="262.64" width="14.73" height="7.96" fill="#e4e7ed"/>
<rect x="191.5" y="262.64" width="14.8" height="7.96" fill="#f8e8dd"/>
<rect x="205.5" y="262.64" width="14.8" height="7.96" fill="#a4b0c3"/>
<rect x="219.5" y="262.64" width="14" height="7.96" fill="#4d6488"/>
<rect x="149.7" y="269.8" width="14.73" height="7.96" fill="#f4f5f7"/>
<rect x="163.63" y="269.8" width="14.73" height="7.96" fill="#fcf6f1"/>
<rect x="177.57" y="269.8" width="14.73" height="7.96" fill="#f4f5f7"/>
<rect x="191.5" y="269.8" width="14.8" height="7.96" fill="#d6dbe3"/>
<rect x="205.5" y="269.8" width="14.8" height="7.96" fill="#94a2b8"/>
<rect x="219.5" y="269.8" width="14" height="7.96" fill="#c7ceda"/>
<rect x="149.7" y="276.96" width="14.73" height="7.96" fill="#f4f5f7"/>
<rect x="163.63" y="276.96" width="14.73" height="7.96" fill="#fcf6f1"/>
<rect x="177.57" y="276.96" width="14.73" height="7.96" fill="#dde1e8"/>
<rect x="191.5" y="276.96" width="14.8" height="7.96" fill="#f1f2f5"/>
<rect x="205.5" y="276.96" width="14.8" height="7.96" fill="#cdd3de"/>
<rect x="219.5" y="276.96" width="14" height="7.96" fill="#596f91"/>
<rect x="149.7" y="284.12" width="14.73" height="7.96" fill="#fefbf9"/>
<rect x="163.63" y="284.12" width="14.73" height="7.96" fill="#f8f9fa"/>
<rect x="177.57" y="284.12" width="14.73" height="7.96" fill="#c3cbd7"/>
<rect x="191.5" y="284.12" width="14.8" height="7.96" fill="#b2bccc"/>
<rect x="205.5" y="284.12" width="14.8" height="7.96" fill="#cdd3de"/>
<rect x="219.5" y="284.12" width="14" height="7.96" fill="#7d8ea9"/>
<rect x="149.7" y="291.28" width="14.73" height="7.96" fill="#f4f5f7"/>
<rect x="163.63" y="291.28" width="14.73" height="7.96" fill="#fdf7f4"/>
<rect x="177.57" y="291.28" width="14.73" height="7.96" fill="#f3d9c7"/>
<rect x="191.5" y="291.28" width="14.8" height="7.96" fill="#f9fafb"/>
<rect x="205.5" y="291.28" width="14.8" height="7.96" fill="#e2e6ec"/>
<rect x="219.5" y="291.28" width="14" height="7.96" fill="#b8c1d0"/>
<rect x="149.7" y="298.44" width="14.73" height="7.96" fill="#e4e7ed"/>
<rect x="163.63" y="298.44" width="14.73" height="7.96" fill="#f9ece3"/>
<rect x="177.57" y="298.44" width="14.73" height="7.96" fill="#f1d1bb"/>
<rect x="191.5" y="298.44" width="14.8" height="7.96" fill="#a4b0c3"/>
<rect x="205.5" y="298.44" width="14.8" height="7.96" fill="#d6dbe3"/>
<rect x="219.5" y="298.44" width="14" height="7.96" fill="#fbf2eb"/>
<rect x="149.7" y="305.6" width="14.73" height="7.96" fill="#f4f5f7"/>
<rect x="163.63" y="305.6" width="14.73" height="7.96" fill="#fdf9f7"/>
<rect x="177.57" y="305.6" width="14.73" height="7.96" fill="#a2aec1"/>
<rect x="191.5" y="305.6" width="14.8" height="7.96" fill="#c7ceda"/>
<rect x="205.5" y="305.6" width="14.8" height="7.96" fill="#a4b0c3"/>
<rect x="219.5" y="305.6" width="14" height="7.96" fill="#7d8ea9"/>
<rect x="149.7" y="312.76" width="14.73" height="7.96" fill="#fefbf9"/>
<rect x="163.63" y="312.76" width="14.73" height="7.96" fill="#f8f9fa"/>
<rect x="177.57" y="312.76" width="14.73" height="7.96" fill="#dde1e8"/>
<rect x="191.5" y="312.76" width="14.8" height="7.96" fill="#a4b0c3"/>
<rect x="205.5" y="312.76" width="14.8" height="7.96" fill="#a4b0c3"/>
<rect x="219.5" y="312.76" width="14" height="7.96" fill="#d6dbe3"/>
<rect x="149.7" y="319.92" width="14.73" height="7.96" fill="#fefbf9"/>
<rect x="163.63" y="319.92" width="14.73" height="7.96" fill="#f8f9fa"/>
<rect x="177.57" y="319.92" width="14.73" height="7.96" fill="#fdf7f4"/>
<rect x="191.5" y="319.92" width="14.8" height="7.96" fill="#a4b0c3"/>
<rect x="205.5" y="319.92" width="14.8" height="7.96" fill="#e2e6ec"/>
<rect x="219.5" y="319.92" width="14" height="7.96" fill="#e2e6ec"/>
<rect x="149.7" y="327.08" width="14.73" height="7.96" fill="#fafbfc"/>
<rect x="163.63" y="327.08" width="14.73" height="7.96" fill="#fefbf9"/>
<rect x="177.57" y="327.08" width="14.73" height="7.96" fill="#eff1f4"/>
<rect x="191.5" y="327.08" width="14.8" height="7.96" fill="#c7ceda"/>
<rect x="205.5" y="327.08" width="14.8" height="7.96" fill="#f1f2f5"/>
<rect x="219.5" y="327.08" width="14" height="7.96" fill="#94a2b8"/>
<rect x="149.7" y="334.24" width="14.73" height="7.96" fill="#fdf7f4"/>
<rect x="163.63" y="334.24" width="14.73" height="7.96" fill="#eff1f4"/>
<rect x="177.57" y="334.24" width="14.73" height="7.96" fill="#eff1f4"/>
<rect x="191.5" y="334.24" width="14.8" height="7.96" fill="#dde1e8"/>
<rect x="205.5" y="334.24" width="14.8" height="7.96" fill="#a4b0c3"/>
<rect x="219.5" y="334.24" width="14" height="7.96" fill="#c7ceda"/>
<rect x="149.7" y="341.4" width="14.73" height="7.96" fill="#fdf7f4"/>
<rect x="163.63" y="341.4" width="14.73" height="7.96" fill="#f6f7f9"/>
<rect x="177.57" y="341.4" width="14.73" height="7.96" fill="#fdf9f7"/>
<rect x="191.5" y="341.4" width="14.8" height="7.96" fill="#dde1e8"/>
<rect x="205.5" y="341.4" width="14.8" height="7.96" fill="#b8c1d0"/>
<rect x="219.5" y="341.4" width="14" height="7.96" fill="#dde1e8"/>
<rect x="149.7" y="348.56" width="14.73" height="7.96" fill="#f4f5f7"/>
<rect x="163.63" y="348.56" width="14.73" height="7.96" fill="#fdf9f7"/>
<rect x="177.57" y="348.56" width="14.73" height="7.96" fill="#f3d9c7"/>
<rect x="191.5" y="348.56" width="14.8" height="7.96" fill="#fdf7f4"/>
<rect x="205.5" y="348.56" width="14.8" height="7.96" fill="#dde1e8"/>
<rect x="219.5" y="348.56" width="14" height="7.96" fill="#cdd3de"/>
<rect x="149.7" y="355.72" width="14.73" height="7.96" fill="#ffffff"/>
<rect x="163.63" y="355.72" width="14.73" height="7.96" fill="#ffffff"/>
<rect x="177.57" y="355.72" width="14.73" height="7.96" fill="#f6e3d5"/>
<rect x="191.5" y="355.72" width="14.8" height="7.96" fill="#d6dbe3"/>
<rect x="205.5" y="355.72" width="14.8" height="7.96" fill="#ebedf2"/>
<rect x="219.5" y="355.72" width="14" height="7.96" fill="#ebedf2"/>
<rect x="149.7" y="362.88" width="14.73" height="7.96" fill="#eff1f4"/>
<rect x="163.63" y="362.88" width="14.73" height="7.96" fill="#fdf7f4"/>
<rect x="177.57" y="362.88" width="14.73" height="7.96" fill="#596f91"/>
<rect x="191.5" y="362.88" width="14.8" height="7.96" fill="#a4b0c3"/>
<rect x="205.5" y="362.88" width="14.8" height="7.96" fill="#c7ceda"/>
<rect x="219.5" y="362.88" width="14" height="7.96" fill="#7183a1"/>
<rect x="149.7" y="370.04" width="14.73" height="7.96" fill="#e8ebf0"/>
<rect x="163.63" y="370.04" width="14.73" height="7.96" fill="#fbf4ee"/>
<rect x="177.57" y="370.04" width="14.73" height="7.96" fill="#e8ebf0"/>
<rect x="191.5" y="370.04" width="14.8" height="7.96" fill="#cdd3de"/>
<rect x="205.5" y="370.04" width="14.8" height="7.96" fill="#cdd3de"/>
<rect x="219.5" y="370.04" width="14" height="7.96" fill="#d6dbe3"/>
<rect x="149.7" y="377.2" width="14.73" height="7.96" fill="#fdf9f7"/>
<rect x="163.63" y="377.2" width="14.73" height="7.96" fill="#f6f7f9"/>
<rect x="177.57" y="377.2" width="14.73" height="7.96" fill="#dde1e8"/>
<rect x="191.5" y="377.2" width="14.8" height="7.96" fill="#d6dbe3"/>
<rect x="205.5" y="377.2" width="14.8" height="7.96" fill="#f1f2f5"/>
<rect x="219.5" y="377.2" width="14" height="7.96" fill="#94a2b8"/>
<rect x="149.7" y="384.36" width="14.73" height="7.96" fill="#f8e8dd"/>
<rect x="163.63" y="384.36" width="14.73" height="7.96" fill="#dde1e8"/>
<rect x="177.57" y="384.36" width="14.73" height="7.96" fill="#fafbfc"/>
<rect x="191.5" y="384.36" width="14.8" height="7.96" fill="#a4b0c3"/>
<rect x="205.5" y="384.36" width="14.8" height="7.96" fill="#dde1e8"/>
<rect x="219.5" y="384.36" width="14" height="7.96" fill="#fefbf9"/>
<rect x="149.7" y="391.52" width="14.73" height="7.96" fill="#fcf6f1"/>
<rect x="163.63" y="391.52" width="14.73" height="7.96" fill="#eff1f4"/>
<rect x="177.57" y="391.52" width="14.73" height="7.96" fill="#e4e7ed"/>
<rect x="191.5" y="391.52" width="14.8" height="7.96" fill="#c7ceda"/>
<rect x="205.5" y="391.52" width="14.8" height="7.96" fill="#c7ceda"/>
<rect x="219.5" y="391.52" width="14" height="7.96" fill="#e2e6ec"/>
<rect x="149.7" y="398.68" width="14.73" height="7.96" fill="#f8e8dd"/>
<rect x="163.63" y="398.68" width="14.73" height="7.96" fill="#dde1e8"/>
<rect x="177.57" y="398.68" width="14.73" height="7.96" fill="#bbc4d2"/>
<rect x="191.5" y="398.68" width="14.8" height="7.96" fill="#e2e6ec"/>
<rect x="205.5" y="398.68" width="14.8" height="7.96" fill="#b8c1d0"/>
<rect x="219.5" y="398.68" width="14" height="7.96" fill="#b8c1d0"/>
<rect x="149.7" y="405.84" width="14.73" height="7.16" fill="#fcf6f1"/>
<rect x="163.63" y="405.84" width="14.73" height="7.16" fill="#e4e7ed"/>
<rect x="177.57" y="405.84" width="14.73" height="7.16" fill="#f3d9c7"/>
<rect x="191.5" y="405.84" width="14.8" height="7.16" fill="#ebedf2"/>
<rect x="205.5" y="405.84" width="14.8" height="7.16" fill="#e2e6ec"/>
<rect x="219.5" y="405.84" width="14" height="7.16" fill="#fefbf9"/>
<rect x="149.7" y="55.4" width="83.8" height="358" fill="none" stroke="#262626" stroke-width="1.2"/>
<rect x="190.75" y="55" width="1.5" height="358.8" fill="#2a2d33"/>
<text x="236.1" y="60.68" font-size="5.5" fill="#2e2e2e" stroke="#2e2e2e" stroke-width="0.08" transform="rotate(0.02 236.1 58.58)">CD62P</text>
<text x="236.1" y="67.84" font-size="5.5" fill="#2e2e2e" stroke="#2e2e2e" stroke-width="0.08" transform="rotate(0.02 236.1 65.74)">CD109</text>
<text x="236.1" y="75" font-size="5.5" fill="#2e2e2e" stroke="#2e2e2e" stroke-width="0.08" transform="rotate(0.02 236.1 72.9)">CD184</text>
<text x="236.1" y="82.16" font-size="5.5" fill="#2e2e2e" stroke="#2e2e2e" stroke-width="0.08" transform="rotate(0.02 236.1 80.06)">CD110</text>
<text x="236.1" y="89.32" font-size="5.5" fill="#2e2e2e" stroke="#2e2e2e" stroke-width="0.08" transform="rotate(0.02 236.1 87.22)">CD235b</text>
<text x="236.1" y="96.48" font-size="5.5" fill="#2e2e2e" stroke="#2e2e2e" stroke-width="0.08" transform="rotate(0.02 236.1 94.38)">CD370</text>
<text x="236.1" y="103.64" font-size="5.5" fill="#2e2e2e" stroke="#2e2e2e" stroke-width="0.08" transform="rotate(0.02 236.1 101.54)">CD253</text>
<text x="236.1" y="110.8" font-size="5.5" fill="#2e2e2e" stroke="#2e2e2e" stroke-width="0.08" transform="rotate(0.02 236.1 108.7)">CD325</text>
<text x="236.1" y="117.96" font-size="5.5" fill="#2e2e2e" stroke="#2e2e2e" stroke-width="0.08" transform="rotate(0.02 236.1 115.86)">CD224</text>
<text x="236.1" y="125.12" font-size="5.5" fill="#2e2e2e" stroke="#2e2e2e" stroke-width="0.08" transform="rotate(0.02 236.1 123.02)">CD48</text>
<text x="236.1" y="132.28" font-size="5.5" fill="#2e2e2e" stroke="#2e2e2e" stroke-width="0.08" transform="rotate(0.02 236.1 130.18)">CD361</text>
<text x="236.1" y="139.44" font-size="5.5" fill="#2e2e2e" stroke="#2e2e2e" stroke-width="0.08" transform="rotate(0.02 236.1 137.34)">CD62L</text>
<text x="236.1" y="146.6" font-size="5.5" fill="#2e2e2e" stroke="#2e2e2e" stroke-width="0.08" transform="rotate(0.02 236.1 144.5)">CD218</text>
<text x="236.1" y="153.76" font-size="5.5" fill="#2e2e2e" stroke="#2e2e2e" stroke-width="0.08" transform="rotate(0.02 236.1 151.66)">CD322</text>
<text x="236.1" y="160.92" font-size="5.5" fill="#2e2e2e" stroke="#2e2e2e" stroke-width="0.08" transform="rotate(0.02 236.1 158.82)">CD53</text>
<text x="236.1" y="168.08" font-size="5.5" fill="#2e2e2e" stroke="#2e2e2e" stroke-width="0.08" transform="rotate(0.02 236.1 165.98)">CD293</text>
<text x="236.1" y="175.24" font-size="5.5" fill="#2e2e2e" stroke="#2e2e2e" stroke-width="0.08" transform="rotate(0.02 236.1 173.14)">CD224</text>
<text x="236.1" y="182.4" font-size="5.5" fill="#2e2e2e" stroke="#2e2e2e" stroke-width="0.08" transform="rotate(0.02 236.1 180.3)">CD35</text>
<text x="236.1" y="189.56" font-size="5.5" fill="#2e2e2e" stroke="#2e2e2e" stroke-width="0.08" transform="rotate(0.02 236.1 187.46)">CD317</text>
<text x="236.1" y="196.72" font-size="5.5" fill="#2e2e2e" stroke="#2e2e2e" stroke-width="0.08" transform="rotate(0.02 236.1 194.62)">CD58</text>
<text x="236.1" y="203.88" font-size="5.5" fill="#2e2e2e" stroke="#2e2e2e" stroke-width="0.08" transform="rotate(0.02 236.1 201.78)">CD273</text>
<text x="236.1" y="211.04" font-size="5.5" fill="#2e2e2e" stroke="#2e2e2e" stroke-width="0.08" transform="rotate(0.02 236.1 208.94)">CD232</text>
<text x="236.1" y="218.2" font-size="5.5" fill="#2e2e2e" stroke="#2e2e2e" stroke-width="0.08" transform="rotate(0.02 236.1 216.1)">CD91</text>
<text x="236.1" y="225.36" font-size="5.5" fill="#2e2e2e" stroke="#2e2e2e" stroke-width="0.08" transform="rotate(0.02 236.1 223.26)">CD305</text>
<text x="236.1" y="232.52" font-size="5.5" fill="#2e2e2e" stroke="#2e2e2e" stroke-width="0.08" transform="rotate(0.02 236.1 230.42)">CD85I</text>
<text x="236.1" y="239.68" font-size="5.5" fill="#2e2e2e" stroke="#2e2e2e" stroke-width="0.08" transform="rotate(0.02 236.1 237.58)">CD33</text>
<text x="236.1" y="246.84" font-size="5.5" fill="#2e2e2e" stroke="#2e2e2e" stroke-width="0.08" transform="rotate(0.02 236.1 244.74)">CD74</text>
<text x="236.1" y="254" font-size="5.5" fill="#2e2e2e" stroke="#2e2e2e" stroke-width="0.08" transform="rotate(0.02 236.1 251.9)">CD155</text>
<text x="236.1" y="261.16" font-size="5.5" fill="#2e2e2e" stroke="#2e2e2e" stroke-width="0.08" transform="rotate(0.02 236.1 259.06)">CD45</text>
<text x="236.1" y="268.32" font-size="5.5" fill="#2e2e2e" stroke="#2e2e2e" stroke-width="0.08" transform="rotate(0.02 236.1 266.22)">CD286</text>
<text x="236.1" y="275.48" font-size="5.5" fill="#2e2e2e" stroke="#2e2e2e" stroke-width="0.08" transform="rotate(0.02 236.1 273.38)">CD164</text>
<text x="236.1" y="282.64" font-size="5.5" fill="#2e2e2e" stroke="#2e2e2e" stroke-width="0.08" transform="rotate(0.02 236.1 280.54)">CD50</text>
<text x="236.1" y="289.8" font-size="5.5" fill="#2e2e2e" stroke="#2e2e2e" stroke-width="0.08" transform="rotate(0.02 236.1 287.7)">CD221</text>
<text x="236.1" y="296.96" font-size="5.5" fill="#2e2e2e" stroke="#2e2e2e" stroke-width="0.08" transform="rotate(0.02 236.1 294.86)">CD295</text>
<text x="236.1" y="304.12" font-size="5.5" fill="#2e2e2e" stroke="#2e2e2e" stroke-width="0.08" transform="rotate(0.02 236.1 302.02)">CD283</text>
<text x="236.1" y="311.28" font-size="5.5" fill="#2e2e2e" stroke="#2e2e2e" stroke-width="0.08" transform="rotate(0.02 236.1 309.18)">CD42b</text>
<text x="236.1" y="318.44" font-size="5.5" fill="#2e2e2e" stroke="#2e2e2e" stroke-width="0.08" transform="rotate(0.02 236.1 316.34)">CD121a</text>
<text x="236.1" y="325.6" font-size="5.5" fill="#2e2e2e" stroke="#2e2e2e" stroke-width="0.08" transform="rotate(0.02 236.1 323.5)">CD151</text>
<text x="236.1" y="332.76" font-size="5.5" fill="#2e2e2e" stroke="#2e2e2e" stroke-width="0.08" transform="rotate(0.02 236.1 330.66)">CD131</text>
<text x="236.1" y="339.92" font-size="5.5" fill="#2e2e2e" stroke="#2e2e2e" stroke-width="0.08" transform="rotate(0.02 236.1 337.82)">CD4</text>
<text x="236.1" y="347.08" font-size="5.5" fill="#2e2e2e" stroke="#2e2e2e" stroke-width="0.08" transform="rotate(0.02 236.1 344.98)">CD143</text>
<text x="236.1" y="354.24" font-size="5.5" fill="#2e2e2e" stroke="#2e2e2e" stroke-width="0.08" transform="rotate(0.02 236.1 352.14)">CD172a</text>
<text x="236.1" y="361.4" font-size="5.5" fill="#2e2e2e" stroke="#2e2e2e" stroke-width="0.08" transform="rotate(0.02 236.1 359.3)">CD154</text>
<text x="236.1" y="368.56" font-size="5.5" fill="#2e2e2e" stroke="#2e2e2e" stroke-width="0.08" transform="rotate(0.02 236.1 366.46)">CD264</text>
<text x="236.1" y="375.72" font-size="5.5" fill="#2e2e2e" stroke="#2e2e2e" stroke-width="0.08" transform="rotate(0.02 236.1 373.62)">CD179a</text>
<text x="236.1" y="382.88" font-size="5.5" fill="#2e2e2e" stroke="#2e2e2e" stroke-width="0.08" transform="rotate(0.02 236.1 380.78)">CD256</text>
<text x="236.1" y="390.04" font-size="5.5" fill="#2e2e2e" stroke="#2e2e2e" stroke-width="0.08" transform="rotate(0.02 236.1 387.94)">CD41</text>
<text x="236.1" y="397.2" font-size="5.5" fill="#2e2e2e" stroke="#2e2e2e" stroke-width="0.08" transform="rotate(0.02 236.1 395.1)">CD72</text>
<text x="236.1" y="404.36" font-size="5.5" fill="#2e2e2e" stroke="#2e2e2e" stroke-width="0.08" transform="rotate(0.02 236.1 402.26)">CD331</text>
<text x="236.1" y="411.52" font-size="5.5" fill="#2e2e2e" stroke="#2e2e2e" stroke-width="0.08" transform="rotate(0.02 236.1 409.42)">CD202b</text>
<rect x="278.1" y="23.0" width="85.0" height="6.0" fill="url(#g)" stroke="#9a9a9a" stroke-width="0.4"/>
<rect x="286.1" y="23.0" width="1" height="0.9" fill="#333"/>
<rect x="286.1" y="28.1" width="1" height="0.9" fill="#333"/>
<rect x="303.1" y="23.0" width="1" height="0.9" fill="#333"/>
<rect x="303.1" y="28.1" width="1" height="0.9" fill="#333"/>
<rect x="320.1" y="23.0" width="1" height="0.9" fill="#333"/>
<rect x="320.1" y="28.1" width="1" height="0.9" fill="#333"/>
<rect x="337.1" y="23.0" width="1" height="0.9" fill="#333"/>
<rect x="337.1" y="28.1" width="1" height="0.9" fill="#333"/>
<rect x="354.1" y="23.0" width="1" height="0.9" fill="#333"/>
<rect x="354.1" y="28.1" width="1" height="0.9" fill="#333"/>
<text class="b" x="278.1" y="34.7" font-size="5.3" text-anchor="middle" transform="rotate(0.02 278.1 33)">-2.5</text>
<text class="b" x="320.6" y="34.7" font-size="5.3" text-anchor="middle" transform="rotate(0.02 320.6 33)">0</text>
<text class="b" x="363.1" y="34.7" font-size="5.3" text-anchor="middle" transform="rotate(0.02 363.1 33)">2.5</text>
<text class="b" x="299.45" y="46.3" font-size="5.5" text-anchor="middle" transform="rotate(0.02 299.45 44)">Normal</text>
<text class="b" x="341.4" y="46.3" font-size="5.5" text-anchor="middle" transform="rotate(0.02 341.4 44)">CML</text>
<text class="b" x="299.45" y="52.6" font-size="5.5" text-anchor="middle" transform="rotate(0.02 299.45 50)">CD34<tspan font-size="4" dy="-1.8">+</tspan><tspan dy="1.8">/CD38</tspan><tspan font-size="4" dy="-1.8">–</tspan></text>
<text class="b" x="341.4" y="52.6" font-size="5.5" text-anchor="middle" transform="rotate(0.02 341.4 50)">CD34<tspan font-size="4" dy="-1.8">+</tspan><tspan dy="1.8">/CD38</tspan><tspan font-size="4" dy="-1.8">–</tspan></text>
<rect x="278.5" y="55" width="14.77" height="7.96" fill="#fefbf9"/>
<rect x="292.47" y="55" width="14.77" height="7.96" fill="#f9fafb"/>
<rect x="306.43" y="55" width="14.77" height="7.96" fill="#f9fafb"/>
<rect x="320.4" y="55" width="14.8" height="7.96" fill="#e8b694"/>
<rect x="334.4" y="55" width="14.8" height="7.96" fill="#f9ece3"/>
<rect x="348.4" y="55" width="14" height="7.96" fill="#d88042"/>
<rect x="278.5" y="62.16" width="14.77" height="7.96" fill="#eaedf1"/>
<rect x="292.47" y="62.16" width="14.77" height="7.96" fill="#fbf2eb"/>
<rect x="306.43" y="62.16" width="14.77" height="7.96" fill="#dadfe6"/>
<rect x="320.4" y="62.16" width="14.8" height="7.96" fill="#e19f70"/>
<rect x="334.4" y="62.16" width="14.8" height="7.96" fill="#da874e"/>
<rect x="348.4" y="62.16" width="14" height="7.96" fill="#e19f70"/>
<rect x="278.5" y="69.32" width="14.77" height="7.96" fill="#f1f2f5"/>
<rect x="292.47" y="69.32" width="14.77" height="7.96" fill="#fcf6f1"/>
<rect x="306.43" y="69.32" width="14.77" height="7.96" fill="#f9fafb"/>
<rect x="320.4" y="69.32" width="14.8" height="7.96" fill="#d88042"/>
<rect x="334.4" y="69.32" width="14.8" height="7.96" fill="#eaba99"/>
<rect x="348.4" y="69.32" width="14" height="7.96" fill="#d88042"/>
<rect x="278.5" y="76.48" width="14.77" height="7.96" fill="#f9ece3"/>
<rect x="292.47" y="76.48" width="14.77" height="7.96" fill="#e0e4ea"/>
<rect x="306.43" y="76.48" width="14.77" height="7.96" fill="#f9fafb"/>
<rect x="320.4" y="76.48" width="14.8" height="7.96" fill="#fbf2eb"/>
<rect x="334.4" y="76.48" width="14.8" height="7.96" fill="#ffffff"/>
<rect x="348.4" y="76.48" width="14" height="7.96" fill="#d88042"/>
<rect x="278.5" y="83.64" width="14.77" height="7.96" fill="#faf0e9"/>
<rect x="292.47" y="83.64" width="14.77" height="7.96" fill="#e6e9ee"/>
<rect x="306.43" y="83.64" width="14.77" height="7.96" fill="#fefbf9"/>
<rect x="320.4" y="83.64" width="14.8" height="7.96" fill="#e19f70"/>
<rect x="334.4" y="83.64" width="14.8" height="7.96" fill="#e6af88"/>
<rect x="348.4" y="83.64" width="14" height="7.96" fill="#da874e"/>
<rect x="278.5" y="90.8" width="14.77" height="7.96" fill="#f9ece3"/>
<rect x="292.47" y="90.8" width="14.77" height="7.96" fill="#e0e4ea"/>
<rect x="306.43" y="90.8" width="14.77" height="7.96" fill="#fefbf9"/>
<rect x="320.4" y="90.8" width="14.8" height="7.96" fill="#e19f70"/>
<rect x="334.4" y="90.8" width="14.8" height="7.96" fill="#ebbd9e"/>
<rect x="348.4" y="90.8" width="14" height="7.96" fill="#dc8f59"/>
<rect x="278.5" y="97.96" width="14.77" height="7.96" fill="#ffffff"/>
<rect x="292.47" y="97.96" width="14.77" height="7.96" fill="#ffffff"/>
<rect x="306.43" y="97.96" width="14.77" height="7.96" fill="#ffffff"/>
<rect x="320.4" y="97.96" width="14.8" height="7.96" fill="#ecc1a3"/>
<rect x="334.4" y="97.96" width="14.8" height="7.96" fill="#fbf2eb"/>
<rect x="348.4" y="97.96" width="14" height="7.96" fill="#da874e"/>
<rect x="278.5" y="105.12" width="14.77" height="7.96" fill="#f3f4f7"/>
<rect x="292.47" y="105.12" width="14.77" height="7.96" fill="#fdf7f4"/>
<rect x="306.43" y="105.12" width="14.77" height="7.96" fill="#f3f4f7"/>
<rect x="320.4" y="105.12" width="14.8" height="7.96" fill="#df9764"/>
<rect x="334.4" y="105.12" width="14.8" height="7.96" fill="#ffffff"/>
<rect x="348.4" y="105.12" width="14" height="7.96" fill="#e4a77c"/>
<rect x="278.5" y="112.28" width="14.77" height="7.96" fill="#f7f8f9"/>
<rect x="292.47" y="112.28" width="14.77" height="7.96" fill="#fdf9f7"/>
<rect x="306.43" y="112.28" width="14.77" height="7.96" fill="#fbf4ee"/>
<rect x="320.4" y="112.28" width="14.8" height="7.96" fill="#df9764"/>
<rect x="334.4" y="112.28" width="14.8" height="7.96" fill="#f1d1bb"/>
<rect x="348.4" y="112.28" width="14" height="7.96" fill="#e8b694"/>
<rect x="278.5" y="119.44" width="14.77" height="7.96" fill="#fbf4ee"/>
<rect x="292.47" y="119.44" width="14.77" height="7.96" fill="#f1f2f5"/>
<rect x="306.43" y="119.44" width="14.77" height="7.96" fill="#f5f6f8"/>
<rect x="320.4" y="119.44" width="14.8" height="7.96" fill="#ebbd9e"/>
<rect x="334.4" y="119.44" width="14.8" height="7.96" fill="#ebbd9e"/>
<rect x="348.4" y="119.44" width="14" height="7.96" fill="#ebbd9e"/>
<rect x="278.5" y="126.6" width="14.77" height="7.96" fill="#f3f4f7"/>
<rect x="292.47" y="126.6" width="14.77" height="7.96" fill="#fdf7f4"/>
<rect x="306.43" y="126.6" width="14.77" height="7.96" fill="#f8e8dd"/>
<rect x="320.4" y="126.6" width="14.8" height="7.96" fill="#eec9af"/>
<rect x="334.4" y="126.6" width="14.8" height="7.96" fill="#e19f70"/>
<rect x="348.4" y="126.6" width="14" height="7.96" fill="#f1d1bb"/>
<rect x="278.5" y="133.76" width="14.77" height="7.96" fill="#c2cad6"/>
<rect x="292.47" y="133.76" width="14.77" height="7.96" fill="#f4ddcd"/>
<rect x="306.43" y="133.76" width="14.77" height="7.96" fill="#ffffff"/>
<rect x="320.4" y="133.76" width="14.8" height="7.96" fill="#eec9af"/>
<rect x="334.4" y="133.76" width="14.8" height="7.96" fill="#f1d1bb"/>
<rect x="348.4" y="133.76" width="14" height="7.96" fill="#ecc1a3"/>
<rect x="278.5" y="140.92" width="14.77" height="7.96" fill="#c9d0db"/>
<rect x="292.47" y="140.92" width="14.77" height="7.96" fill="#f4ddcd"/>
<rect x="306.43" y="140.92" width="14.77" height="7.96" fill="#c2cad6"/>
<rect x="320.4" y="140.92" width="14.8" height="7.96" fill="#f1d1bb"/>
<rect x="334.4" y="140.92" width="14.8" height="7.96" fill="#f3d9c7"/>
<rect x="348.4" y="140.92" width="14" height="7.96" fill="#f1d1bb"/>
<rect x="278.5" y="148.08" width="14.77" height="7.96" fill="#fdf7f4"/>
<rect x="292.47" y="148.08" width="14.77" height="7.96" fill="#f3f4f7"/>
<rect x="306.43" y="148.08" width="14.77" height="7.96" fill="#d1d7e0"/>
<rect x="320.4" y="148.08" width="14.8" height="7.96" fill="#f1d1bb"/>
<rect x="334.4" y="148.08" width="14.8" height="7.96" fill="#eaedf1"/>
<rect x="348.4" y="148.08" width="14" height="7.96" fill="#e19f70"/>
<rect x="278.5" y="155.24" width="14.77" height="7.96" fill="#d1d7e0"/>
<rect x="292.47" y="155.24" width="14.77" height="7.96" fill="#f6e3d5"/>
<rect x="306.43" y="155.24" width="14.77" height="7.96" fill="#f3f4f7"/>
<rect x="320.4" y="155.24" width="14.8" height="7.96" fill="#f3d9c7"/>
<rect x="334.4" y="155.24" width="14.8" height="7.96" fill="#f1d1bb"/>
<rect x="348.4" y="155.24" width="14" height="7.96" fill="#eec9af"/>
<rect x="278.5" y="162.4" width="14.77" height="7.96" fill="#f3f4f7"/>
<rect x="292.47" y="162.4" width="14.77" height="7.96" fill="#fefbf9"/>
<rect x="306.43" y="162.4" width="14.77" height="7.96" fill="#b1bbcb"/>
<rect x="320.4" y="162.4" width="14.8" height="7.96" fill="#eaedf1"/>
<rect x="334.4" y="162.4" width="14.8" height="7.96" fill="#7c8da8"/>
<rect x="348.4" y="162.4" width="14" height="7.96" fill="#d88042"/>
<rect x="278.5" y="169.56" width="14.77" height="7.96" fill="#f5f6f8"/>
<rect x="292.47" y="169.56" width="14.77" height="7.96" fill="#fdf9f7"/>
<rect x="306.43" y="169.56" width="14.77" height="7.96" fill="#fdf9f7"/>
<rect x="320.4" y="169.56" width="14.8" height="7.96" fill="#fdf9f7"/>
<rect x="334.4" y="169.56" width="14.8" height="7.96" fill="#f8e8dd"/>
<rect x="348.4" y="169.56" width="14" height="7.96" fill="#dc8f59"/>
<rect x="278.5" y="176.72" width="14.77" height="7.96" fill="#fdf7f4"/>
<rect x="292.47" y="176.72" width="14.77" height="7.96" fill="#f7f8f9"/>
<rect x="306.43" y="176.72" width="14.77" height="7.96" fill="#fefbf9"/>
<rect x="320.4" y="176.72" width="14.8" height="7.96" fill="#f6e3d5"/>
<rect x="334.4" y="176.72" width="14.8" height="7.96" fill="#f2d6c2"/>
<rect x="348.4" y="176.72" width="14" height="7.96" fill="#ecc1a3"/>
<rect x="278.5" y="183.88" width="14.77" height="7.96" fill="#f5f6f8"/>
<rect x="292.47" y="183.88" width="14.77" height="7.96" fill="#fdf9f7"/>
<rect x="306.43" y="183.88" width="14.77" height="7.96" fill="#ffffff"/>
<rect x="320.4" y="183.88" width="14.8" height="7.96" fill="#f8e8dd"/>
<rect x="334.4" y="183.88" width="14.8" height="7.96" fill="#f2d6c2"/>
<rect x="348.4" y="183.88" width="14" height="7.96" fill="#ecc1a3"/>
<rect x="278.5" y="191.04" width="14.77" height="7.96" fill="#f7f8f9"/>
<rect x="292.47" y="191.04" width="14.77" height="7.96" fill="#fefbf9"/>
<rect x="306.43" y="191.04" width="14.77" height="7.96" fill="#e0e4ea"/>
<rect x="320.4" y="191.04" width="14.8" height="7.96" fill="#f9ece3"/>
<rect x="334.4" y="191.04" width="14.8" height="7.96" fill="#f6e3d5"/>
<rect x="348.4" y="191.04" width="14" height="7.96" fill="#eec9af"/>
<rect x="278.5" y="198.2" width="14.77" height="7.96" fill="#e0e4ea"/>
<rect x="292.47" y="198.2" width="14.77" height="7.96" fill="#f8e8dd"/>
<rect x="306.43" y="198.2" width="14.77" height="7.96" fill="#f9ece3"/>
<rect x="320.4" y="198.2" width="14.8" height="7.96" fill="#f3d9c7"/>
<rect x="334.4" y="198.2" width="14.8" height="7.96" fill="#ecc1a3"/>
<rect x="348.4" y="198.2" width="14" height="7.96" fill="#f3d9c7"/>
<rect x="278.5" y="205.36" width="14.77" height="7.96" fill="#f3f4f7"/>
<rect x="292.47" y="205.36" width="14.77" height="7.96" fill="#fdf7f4"/>
<rect x="306.43" y="205.36" width="14.77" height="7.96" fill="#d6dbe3"/>
<rect x="320.4" y="205.36" width="14.8" height="7.96" fill="#f3d9c7"/>
<rect x="334.4" y="205.36" width="14.8" height="7.96" fill="#f3d9c7"/>
<rect x="348.4" y="205.36" width="14" height="7.96" fill="#f3d9c7"/>
<rect x="278.5" y="212.52" width="14.77" height="7.96" fill="#e6e9ee"/>
<rect x="292.47" y="212.52" width="14.77" height="7.96" fill="#faf0e9"/>
<rect x="306.43" y="212.52" width="14.77" height="7.96" fill="#f1d1bb"/>
<rect x="320.4" y="212.52" width="14.8" height="7.96" fill="#ebbd9e"/>
<rect x="334.4" y="212.52" width="14.8" height="7.96" fill="#ebbd9e"/>
<rect x="348.4" y="212.52" width="14" height="7.96" fill="#fefbf9"/>
<rect x="278.5" y="219.68" width="14.77" height="7.96" fill="#f3f4f7"/>
<rect x="292.47" y="219.68" width="14.77" height="7.96" fill="#fdf7f4"/>
<rect x="306.43" y="219.68" width="14.77" height="7.96" fill="#fcf6f1"/>
<rect x="320.4" y="219.68" width="14.8" height="7.96" fill="#eec9af"/>
<rect x="334.4" y="219.68" width="14.8" height="7.96" fill="#f3d9c7"/>
<rect x="348.4" y="219.68" width="14" height="7.96" fill="#f6e3d5"/>
<rect x="278.5" y="226.84" width="14.77" height="7.96" fill="#e6e9ee"/>
<rect x="292.47" y="226.84" width="14.77" height="7.96" fill="#f9ece3"/>
<rect x="306.43" y="226.84" width="14.77" height="7.96" fill="#f3f4f7"/>
<rect x="320.4" y="226.84" width="14.8" height="7.96" fill="#f4ddcd"/>
<rect x="334.4" y="226.84" width="14.8" height="7.96" fill="#ecc1a3"/>
<rect x="348.4" y="226.84" width="14" height="7.96" fill="#fefbf9"/>
<rect x="278.5" y="234" width="14.77" height="7.96" fill="#e6e9ee"/>
<rect x="292.47" y="234" width="14.77" height="7.96" fill="#faf0e9"/>
<rect x="306.43" y="234" width="14.77" height="7.96" fill="#f6e3d5"/>
<rect x="320.4" y="234" width="14.8" height="7.96" fill="#faf0e9"/>
<rect x="334.4" y="234" width="14.8" height="7.96" fill="#ecc1a3"/>
<rect x="348.4" y="234" width="14" height="7.96" fill="#f1d1bb"/>
<rect x="278.5" y="241.16" width="14.77" height="7.96" fill="#dadfe6"/>
<rect x="292.47" y="241.16" width="14.77" height="7.96" fill="#f8e8dd"/>
<rect x="306.43" y="241.16" width="14.77" height="7.96" fill="#f9fafb"/>
<rect x="320.4" y="241.16" width="14.8" height="7.96" fill="#fbf2eb"/>
<rect x="334.4" y="241.16" width="14.8" height="7.96" fill="#f1d1bb"/>
<rect x="348.4" y="241.16" width="14" height="7.96" fill="#f6e3d5"/>
<rect x="278.5" y="248.32" width="14.77" height="7.96" fill="#f1f2f5"/>
<rect x="292.47" y="248.32" width="14.77" height="7.96" fill="#fcf6f1"/>
<rect x="306.43" y="248.32" width="14.77" height="7.96" fill="#f9fafb"/>
<rect x="320.4" y="248.32" width="14.8" height="7.96" fill="#f8e8dd"/>
<rect x="334.4" y="248.32" width="14.8" height="7.96" fill="#f8e8dd"/>
<rect x="348.4" y="248.32" width="14" height="7.96" fill="#f1d1bb"/>
<rect x="278.5" y="255.48" width="14.77" height="7.96" fill="#f3f4f7"/>
<rect x="292.47" y="255.48" width="14.77" height="7.96" fill="#fdf7f4"/>
<rect x="306.43" y="255.48" width="14.77" height="7.96" fill="#f3d9c7"/>
<rect x="320.4" y="255.48" width="14.8" height="7.96" fill="#eec9af"/>
<rect x="334.4" y="255.48" width="14.8" height="7.96" fill="#f4ddcd"/>
<rect x="348.4" y="255.48" width="14" height="7.96" fill="#f6e3d5"/>
<rect x="278.5" y="262.64" width="14.77" height="7.96" fill="#fdf7f4"/>
<rect x="292.47" y="262.64" width="14.77" height="7.96" fill="#f1f2f5"/>
<rect x="306.43" y="262.64" width="14.77" height="7.96" fill="#d6dbe3"/>
<rect x="320.4" y="262.64" width="14.8" height="7.96" fill="#f8e8dd"/>
<rect x="334.4" y="262.64" width="14.8" height="7.96" fill="#fefbf9"/>
<rect x="348.4" y="262.64" width="14" height="7.96" fill="#fdf9f7"/>
<rect x="278.5" y="269.8" width="14.77" height="7.96" fill="#fbf2eb"/>
<rect x="292.47" y="269.8" width="14.77" height="7.96" fill="#eef1f4"/>
<rect x="306.43" y="269.8" width="14.77" height="7.96" fill="#fcf6f1"/>
<rect x="320.4" y="269.8" width="14.8" height="7.96" fill="#f6e3d5"/>
<rect x="334.4" y="269.8" width="14.8" height="7.96" fill="#f8e8dd"/>
<rect x="348.4" y="269.8" width="14" height="7.96" fill="#f6e3d5"/>
<rect x="278.5" y="276.96" width="14.77" height="7.96" fill="#f3f4f7"/>
<rect x="292.47" y="276.96" width="14.77" height="7.96" fill="#fdf7f4"/>
<rect x="306.43" y="276.96" width="14.77" height="7.96" fill="#e0e4ea"/>
<rect x="320.4" y="276.96" width="14.8" height="7.96" fill="#f6e3d5"/>
<rect x="334.4" y="276.96" width="14.8" height="7.96" fill="#f6e3d5"/>
<rect x="348.4" y="276.96" width="14" height="7.96" fill="#ffffff"/>
<rect x="278.5" y="284.12" width="14.77" height="7.96" fill="#bdc5d3"/>
<rect x="292.47" y="284.12" width="14.77" height="7.96" fill="#f2d6c2"/>
<rect x="306.43" y="284.12" width="14.77" height="7.96" fill="#f7f8f9"/>
<rect x="320.4" y="284.12" width="14.8" height="7.96" fill="#fbf4ee"/>
<rect x="334.4" y="284.12" width="14.8" height="7.96" fill="#eaba99"/>
<rect x="348.4" y="284.12" width="14" height="7.96" fill="#dadfe6"/>
<rect x="278.5" y="291.28" width="14.77" height="7.96" fill="#9ca9bd"/>
<rect x="292.47" y="291.28" width="14.77" height="7.96" fill="#eec9af"/>
<rect x="306.43" y="291.28" width="14.77" height="7.96" fill="#f7f8f9"/>
<rect x="320.4" y="291.28" width="14.8" height="7.96" fill="#ecc1a3"/>
<rect x="334.4" y="291.28" width="14.8" height="7.96" fill="#e8b694"/>
<rect x="348.4" y="291.28" width="14" height="7.96" fill="#7c8da8"/>
<rect x="278.5" y="298.44" width="14.77" height="7.96" fill="#c2cad6"/>
<rect x="292.47" y="298.44" width="14.77" height="7.96" fill="#f3d9c7"/>
<rect x="306.43" y="298.44" width="14.77" height="7.96" fill="#9ca9bd"/>
<rect x="320.4" y="298.44" width="14.8" height="7.96" fill="#bdc5d3"/>
<rect x="334.4" y="298.44" width="14.8" height="7.96" fill="#fcf6f1"/>
<rect x="348.4" y="298.44" width="14" height="7.96" fill="#f4ddcd"/>
<rect x="278.5" y="305.6" width="14.77" height="7.96" fill="#e0e4ea"/>
<rect x="292.47" y="305.6" width="14.77" height="7.96" fill="#f9ece3"/>
<rect x="306.43" y="305.6" width="14.77" height="7.96" fill="#c9d0db"/>
<rect x="320.4" y="305.6" width="14.8" height="7.96" fill="#b8c1d0"/>
<rect x="334.4" y="305.6" width="14.8" height="7.96" fill="#eec9af"/>
<rect x="348.4" y="305.6" width="14" height="7.96" fill="#f6e3d5"/>
<rect x="278.5" y="312.76" width="14.77" height="7.96" fill="#f9fafb"/>
<rect x="292.47" y="312.76" width="14.77" height="7.96" fill="#fefbf9"/>
<rect x="306.43" y="312.76" width="14.77" height="7.96" fill="#fefdfc"/>
<rect x="320.4" y="312.76" width="14.8" height="7.96" fill="#bdc5d3"/>
<rect x="334.4" y="312.76" width="14.8" height="7.96" fill="#eec9af"/>
<rect x="348.4" y="312.76" width="14" height="7.96" fill="#f3d9c7"/>
<rect x="278.5" y="319.92" width="14.77" height="7.96" fill="#ffffff"/>
<rect x="292.47" y="319.92" width="14.77" height="7.96" fill="#ffffff"/>
<rect x="306.43" y="319.92" width="14.77" height="7.96" fill="#ffffff"/>
<rect x="320.4" y="319.92" width="14.8" height="7.96" fill="#ffffff"/>
<rect x="334.4" y="319.92" width="14.8" height="7.96" fill="#f2d6c2"/>
<rect x="348.4" y="319.92" width="14" height="7.96" fill="#f9ece3"/>
<rect x="278.5" y="327.08" width="14.77" height="7.96" fill="#e0e4ea"/>
<rect x="292.47" y="327.08" width="14.77" height="7.96" fill="#faf0e9"/>
<rect x="306.43" y="327.08" width="14.77" height="7.96" fill="#e0e4ea"/>
<rect x="320.4" y="327.08" width="14.8" height="7.96" fill="#ffffff"/>
<rect x="334.4" y="327.08" width="14.8" height="7.96" fill="#f5f6f8"/>
<rect x="348.4" y="327.08" width="14" height="7.96" fill="#f1d1bb"/>
<rect x="278.5" y="334.24" width="14.77" height="7.96" fill="#f7f8f9"/>
<rect x="292.47" y="334.24" width="14.77" height="7.96" fill="#fdf9f7"/>
<rect x="306.43" y="334.24" width="14.77" height="7.96" fill="#fdf7f4"/>
<rect x="320.4" y="334.24" width="14.8" height="7.96" fill="#f8e8dd"/>
<rect x="334.4" y="334.24" width="14.8" height="7.96" fill="#f8e8dd"/>
<rect x="348.4" y="334.24" width="14" height="7.96" fill="#f6e3d5"/>
<rect x="278.5" y="341.4" width="14.77" height="7.96" fill="#f9fafb"/>
<rect x="292.47" y="341.4" width="14.77" height="7.96" fill="#fdf9f7"/>
<rect x="306.43" y="341.4" width="14.77" height="7.96" fill="#fcf6f1"/>
<rect x="320.4" y="341.4" width="14.8" height="7.96" fill="#eec9af"/>
<rect x="334.4" y="341.4" width="14.8" height="7.96" fill="#f8e8dd"/>
<rect x="348.4" y="341.4" width="14" height="7.96" fill="#fefbf9"/>
<rect x="278.5" y="348.56" width="14.77" height="7.96" fill="#f1f2f5"/>
<rect x="292.47" y="348.56" width="14.77" height="7.96" fill="#fdf7f4"/>
<rect x="306.43" y="348.56" width="14.77" height="7.96" fill="#dadfe6"/>
<rect x="320.4" y="348.56" width="14.8" height="7.96" fill="#fbf4ee"/>
<rect x="334.4" y="348.56" width="14.8" height="7.96" fill="#f5f6f8"/>
<rect x="348.4" y="348.56" width="14" height="7.96" fill="#f3d9c7"/>
<rect x="278.5" y="355.72" width="14.77" height="7.96" fill="#e6e9ee"/>
<rect x="292.47" y="355.72" width="14.77" height="7.96" fill="#faf0e9"/>
<rect x="306.43" y="355.72" width="14.77" height="7.96" fill="#8796af"/>
<rect x="320.4" y="355.72" width="14.8" height="7.96" fill="#fbf2eb"/>
<rect x="334.4" y="355.72" width="14.8" height="7.96" fill="#e0e4ea"/>
<rect x="348.4" y="355.72" width="14" height="7.96" fill="#fbfbfc"/>
<rect x="278.5" y="362.88" width="14.77" height="7.96" fill="#f9fafb"/>
<rect x="292.47" y="362.88" width="14.77" height="7.96" fill="#fefbf9"/>
<rect x="306.43" y="362.88" width="14.77" height="7.96" fill="#e6e9ee"/>
<rect x="320.4" y="362.88" width="14.8" height="7.96" fill="#fbf2eb"/>
<rect x="334.4" y="362.88" width="14.8" height="7.96" fill="#eef1f4"/>
<rect x="348.4" y="362.88" width="14" height="7.96" fill="#f2d6c2"/>
<rect x="278.5" y="370.04" width="14.77" height="7.96" fill="#ffffff"/>
<rect x="292.47" y="370.04" width="14.77" height="7.96" fill="#ffffff"/>
<rect x="306.43" y="370.04" width="14.77" height="7.96" fill="#fdf9f7"/>
<rect x="320.4" y="370.04" width="14.8" height="7.96" fill="#f2d6c2"/>
<rect x="334.4" y="370.04" width="14.8" height="7.96" fill="#ffffff"/>
<rect x="348.4" y="370.04" width="14" height="7.96" fill="#f8e8dd"/>
<rect x="278.5" y="377.2" width="14.77" height="7.96" fill="#f9ece3"/>
<rect x="292.47" y="377.2" width="14.77" height="7.96" fill="#e0e4ea"/>
<rect x="306.43" y="377.2" width="14.77" height="7.96" fill="#d1d7e0"/>
<rect x="320.4" y="377.2" width="14.8" height="7.96" fill="#f9fafb"/>
<rect x="334.4" y="377.2" width="14.8" height="7.96" fill="#fdf7f4"/>
<rect x="348.4" y="377.2" width="14" height="7.96" fill="#faf0e9"/>
<rect x="278.5" y="384.36" width="14.77" height="7.96" fill="#dadfe6"/>
<rect x="292.47" y="384.36" width="14.77" height="7.96" fill="#f8e8dd"/>
<rect x="306.43" y="384.36" width="14.77" height="7.96" fill="#e6e9ee"/>
<rect x="320.4" y="384.36" width="14.8" height="7.96" fill="#f5f6f8"/>
<rect x="334.4" y="384.36" width="14.8" height="7.96" fill="#f8e8dd"/>
<rect x="348.4" y="384.36" width="14" height="7.96" fill="#fbf4ee"/>
<rect x="278.5" y="391.52" width="14.77" height="7.96" fill="#fdf7f4"/>
<rect x="292.47" y="391.52" width="14.77" height="7.96" fill="#f7f8f9"/>
<rect x="306.43" y="391.52" width="14.77" height="7.96" fill="#eaedf1"/>
<rect x="320.4" y="391.52" width="14.8" height="7.96" fill="#fcf6f1"/>
<rect x="334.4" y="391.52" width="14.8" height="7.96" fill="#f1f2f5"/>
<rect x="348.4" y="391.52" width="14" height="7.96" fill="#f6e3d5"/>
<rect x="278.5" y="398.68" width="14.77" height="7.96" fill="#f5f6f8"/>
<rect x="292.47" y="398.68" width="14.77" height="7.96" fill="#fdf7f4"/>
<rect x="306.43" y="398.68" width="14.77" height="7.96" fill="#dadfe6"/>
<rect x="320.4" y="398.68" width="14.8" height="7.96" fill="#f7f8f9"/>
<rect x="334.4" y="398.68" width="14.8" height="7.96" fill="#e6e9ee"/>
<rect x="348.4" y="398.68" width="14" height="7.96" fill="#f3d9c7"/>
<rect x="278.5" y="405.84" width="14.77" height="7.16" fill="#fdf7f4"/>
<rect x="292.47" y="405.84" width="14.77" height="7.16" fill="#f7f8f9"/>
<rect x="306.43" y="405.84" width="14.77" height="7.16" fill="#ffffff"/>
<rect x="320.4" y="405.84" width="14.8" height="7.16" fill="#f1d1bb"/>
<rect x="334.4" y="405.84" width="14.8" height="7.16" fill="#f1d1bb"/>
<rect x="348.4" y="405.84" width="14" height="7.16" fill="#c9d0db"/>
<rect x="278.5" y="55.4" width="83.9" height="358" fill="none" stroke="#262626" stroke-width="1.2"/>
<rect x="319.65" y="55" width="1.5" height="358.8" fill="#2a2d33"/>
<text x="365" y="60.68" font-size="5.5" fill="#2e2e2e" stroke="#2e2e2e" stroke-width="0.08" transform="rotate(0.02 365 58.58)">CD61</text>
<text x="365" y="67.84" font-size="5.5" fill="#2e2e2e" stroke="#2e2e2e" stroke-width="0.08" transform="rotate(0.02 365 65.74)">CD69</text>
<text x="365" y="75" font-size="5.5" fill="#2e2e2e" stroke="#2e2e2e" stroke-width="0.08" transform="rotate(0.02 365 72.9)">CD25</text>
<text x="365" y="82.16" font-size="5.5" fill="#2e2e2e" stroke="#2e2e2e" stroke-width="0.08" transform="rotate(0.02 365 80.06)">CD41</text>
<text x="365" y="89.32" font-size="5.5" fill="#2e2e2e" stroke="#2e2e2e" stroke-width="0.08" transform="rotate(0.02 365 87.22)">CD206</text>
<text x="365" y="96.48" font-size="5.5" fill="#2e2e2e" stroke="#2e2e2e" stroke-width="0.08" transform="rotate(0.02 365 94.38)">CD206</text>
<text x="365" y="103.64" font-size="5.5" fill="#2e2e2e" stroke="#2e2e2e" stroke-width="0.08" transform="rotate(0.02 365 101.54)">CD36</text>
<text x="365" y="110.8" font-size="5.5" fill="#2e2e2e" stroke="#2e2e2e" stroke-width="0.08" transform="rotate(0.02 365 108.7)">CD168</text>
<text x="365" y="117.96" font-size="5.5" fill="#2e2e2e" stroke="#2e2e2e" stroke-width="0.08" transform="rotate(0.02 365 115.86)">CD26</text>
<text x="365" y="125.12" font-size="5.5" fill="#2e2e2e" stroke="#2e2e2e" stroke-width="0.08" transform="rotate(0.02 365 123.02)">IL1RAP</text>
<text x="365" y="132.28" font-size="5.5" fill="#2e2e2e" stroke="#2e2e2e" stroke-width="0.08" transform="rotate(0.02 365 130.18)">CD83</text>
<text x="365" y="139.44" font-size="5.5" fill="#2e2e2e" stroke="#2e2e2e" stroke-width="0.08" transform="rotate(0.02 365 137.34)">CD225</text>
<text x="365" y="146.6" font-size="5.5" fill="#2e2e2e" stroke="#2e2e2e" stroke-width="0.08" transform="rotate(0.02 365 144.5)">CD71</text>
<text x="365" y="153.76" font-size="5.5" fill="#2e2e2e" stroke="#2e2e2e" stroke-width="0.08" transform="rotate(0.02 365 151.66)">CD121a</text>
<text x="365" y="160.92" font-size="5.5" fill="#2e2e2e" stroke="#2e2e2e" stroke-width="0.08" transform="rotate(0.02 365 158.82)">CD253</text>
<text x="365" y="168.08" font-size="5.5" fill="#2e2e2e" stroke="#2e2e2e" stroke-width="0.08" transform="rotate(0.02 365 165.98)">CD42b</text>
<text x="365" y="175.24" font-size="5.5" fill="#2e2e2e" stroke="#2e2e2e" stroke-width="0.08" transform="rotate(0.02 365 173.14)">CD49b</text>
<text x="365" y="182.4" font-size="5.5" fill="#2e2e2e" stroke="#2e2e2e" stroke-width="0.08" transform="rotate(0.02 365 180.3)">CD140b</text>
<text x="365" y="189.56" font-size="5.5" fill="#2e2e2e" stroke="#2e2e2e" stroke-width="0.08" transform="rotate(0.02 365 187.46)">CD112</text>
<text x="365" y="196.72" font-size="5.5" fill="#2e2e2e" stroke="#2e2e2e" stroke-width="0.08" transform="rotate(0.02 365 194.62)">CD224</text>
<text x="365" y="203.88" font-size="5.5" fill="#2e2e2e" stroke="#2e2e2e" stroke-width="0.08" transform="rotate(0.02 365 201.78)">CD130</text>
<text x="365" y="211.04" font-size="5.5" fill="#2e2e2e" stroke="#2e2e2e" stroke-width="0.08" transform="rotate(0.02 365 208.94)">CD119</text>
<text x="365" y="218.2" font-size="5.5" fill="#2e2e2e" stroke="#2e2e2e" stroke-width="0.08" transform="rotate(0.02 365 216.1)">CD158a</text>
<text x="365" y="225.36" font-size="5.5" fill="#2e2e2e" stroke="#2e2e2e" stroke-width="0.08" transform="rotate(0.02 365 223.26)">CD98</text>
<text x="365" y="232.52" font-size="5.5" fill="#2e2e2e" stroke="#2e2e2e" stroke-width="0.08" transform="rotate(0.02 365 230.42)">CD108</text>
<text x="365" y="239.68" font-size="5.5" fill="#2e2e2e" stroke="#2e2e2e" stroke-width="0.08" transform="rotate(0.02 365 237.58)">CD104</text>
<text x="365" y="246.84" font-size="5.5" fill="#2e2e2e" stroke="#2e2e2e" stroke-width="0.08" transform="rotate(0.02 365 244.74)">CD227</text>
<text x="365" y="254" font-size="5.5" fill="#2e2e2e" stroke="#2e2e2e" stroke-width="0.08" transform="rotate(0.02 365 251.9)">CD66a</text>
<text x="365" y="261.16" font-size="5.5" fill="#2e2e2e" stroke="#2e2e2e" stroke-width="0.08" transform="rotate(0.02 365 259.06)">CD276</text>
<text x="365" y="268.32" font-size="5.5" fill="#2e2e2e" stroke="#2e2e2e" stroke-width="0.08" transform="rotate(0.02 365 266.22)">CD33</text>
<text x="365" y="275.48" font-size="5.5" fill="#2e2e2e" stroke="#2e2e2e" stroke-width="0.08" transform="rotate(0.02 365 273.38)">CD77</text>
<text x="365" y="282.64" font-size="5.5" fill="#2e2e2e" stroke="#2e2e2e" stroke-width="0.08" transform="rotate(0.02 365 280.54)">CD327</text>
<text x="365" y="289.8" font-size="5.5" fill="#2e2e2e" stroke="#2e2e2e" stroke-width="0.08" transform="rotate(0.02 365 287.7)">CD54</text>
<text x="365" y="296.96" font-size="5.5" fill="#2e2e2e" stroke="#2e2e2e" stroke-width="0.08" transform="rotate(0.02 365 294.86)">CD153</text>
<text x="365" y="304.12" font-size="5.5" fill="#2e2e2e" stroke="#2e2e2e" stroke-width="0.08" transform="rotate(0.02 365 302.02)">CD293</text>
<text x="365" y="311.28" font-size="5.5" fill="#2e2e2e" stroke="#2e2e2e" stroke-width="0.08" transform="rotate(0.02 365 309.18)">CD11c</text>
<text x="365" y="318.44" font-size="5.5" fill="#2e2e2e" stroke="#2e2e2e" stroke-width="0.08" transform="rotate(0.02 365 316.34)">CD68</text>
<text x="365" y="325.6" font-size="5.5" fill="#2e2e2e" stroke="#2e2e2e" stroke-width="0.08" transform="rotate(0.02 365 323.5)">CD239</text>
<text x="365" y="332.76" font-size="5.5" fill="#2e2e2e" stroke="#2e2e2e" stroke-width="0.08" transform="rotate(0.02 365 330.66)">CD320</text>
<text x="365" y="339.92" font-size="5.5" fill="#2e2e2e" stroke="#2e2e2e" stroke-width="0.08" transform="rotate(0.02 365 337.82)">CD300c</text>
<text x="365" y="347.08" font-size="5.5" fill="#2e2e2e" stroke="#2e2e2e" stroke-width="0.08" transform="rotate(0.02 365 344.98)">CD97</text>
<text x="365" y="354.24" font-size="5.5" fill="#2e2e2e" stroke="#2e2e2e" stroke-width="0.08" transform="rotate(0.02 365 352.14)">CD49e</text>
<text x="365" y="361.4" font-size="5.5" fill="#2e2e2e" stroke="#2e2e2e" stroke-width="0.08" transform="rotate(0.02 365 359.3)">CD252</text>
<text x="365" y="368.56" font-size="5.5" fill="#2e2e2e" stroke="#2e2e2e" stroke-width="0.08" transform="rotate(0.02 365 366.46)">CD93</text>
<text x="365" y="375.72" font-size="5.5" fill="#2e2e2e" stroke="#2e2e2e" stroke-width="0.08" transform="rotate(0.02 365 373.62)">CD30</text>
<text x="365" y="382.88" font-size="5.5" fill="#2e2e2e" stroke="#2e2e2e" stroke-width="0.08" transform="rotate(0.02 365 380.78)">CD200</text>
<text x="365" y="390.04" font-size="5.5" fill="#2e2e2e" stroke="#2e2e2e" stroke-width="0.08" transform="rotate(0.02 365 387.94)">CD210b</text>
<text x="365" y="397.2" font-size="5.5" fill="#2e2e2e" stroke="#2e2e2e" stroke-width="0.08" transform="rotate(0.02 365 395.1)">CD79a</text>
<text x="365" y="404.36" font-size="5.5" fill="#2e2e2e" stroke="#2e2e2e" stroke-width="0.08" transform="rotate(0.02 365 402.26)">CD162</text>
<text x="365" y="411.52" font-size="5.5" fill="#2e2e2e" stroke="#2e2e2e" stroke-width="0.08" transform="rotate(0.02 365 409.42)">CD261</text>
<rect x="406.4" y="23.0" width="85.0" height="6.0" fill="url(#g)" stroke="#9a9a9a" stroke-width="0.4"/>
<rect x="414.4" y="23.0" width="1" height="0.9" fill="#333"/>
<rect x="414.4" y="28.1" width="1" height="0.9" fill="#333"/>
<rect x="431.4" y="23.0" width="1" height="0.9" fill="#333"/>
<rect x="431.4" y="28.1" width="1" height="0.9" fill="#333"/>
<rect x="448.4" y="23.0" width="1" height="0.9" fill="#333"/>
<rect x="448.4" y="28.1" width="1" height="0.9" fill="#333"/>
<rect x="465.4" y="23.0" width="1" height="0.9" fill="#333"/>
<rect x="465.4" y="28.1" width="1" height="0.9" fill="#333"/>
<rect x="482.4" y="23.0" width="1" height="0.9" fill="#333"/>
<rect x="482.4" y="28.1" width="1" height="0.9" fill="#333"/>
<text class="b" x="406.4" y="34.7" font-size="5.3" text-anchor="middle" transform="rotate(0.02 406.4 33)">-2.5</text>
<text class="b" x="448.9" y="34.7" font-size="5.3" text-anchor="middle" transform="rotate(0.02 448.9 33)">0</text>
<text class="b" x="491.4" y="34.7" font-size="5.3" text-anchor="middle" transform="rotate(0.02 491.4 33)">2.5</text>
<text class="b" x="428.4" y="46.3" font-size="5.5" text-anchor="middle" transform="rotate(0.02 428.4 44)">Normal</text>
<text class="b" x="470.05" y="46.3" font-size="5.5" text-anchor="middle" transform="rotate(0.02 470.05 44)">CML</text>
<text class="b" x="428.4" y="52.6" font-size="5.5" text-anchor="middle" transform="rotate(0.02 428.4 50)">CD34<tspan font-size="4" dy="-1.8">+</tspan><tspan dy="1.8">/CD38</tspan><tspan font-size="4" dy="-1.8">–</tspan></text>
<text class="b" x="470.05" y="52.6" font-size="5.5" text-anchor="middle" transform="rotate(0.02 470.05 50)">CD34<tspan font-size="4" dy="-1.8">+</tspan><tspan dy="1.8">/CD38</tspan><tspan font-size="4" dy="-1.8">–</tspan></text>
<rect x="407.5" y="55" width="14.73" height="7.96" fill="#fcf6f1"/>
<rect x="421.43" y="55" width="14.73" height="7.96" fill="#f4f5f7"/>
<rect x="435.37" y="55" width="14.73" height="7.96" fill="#dde1e8"/>
<rect x="449.3" y="55" width="14.63" height="7.96" fill="#3a537c"/>
<rect x="463.13" y="55" width="14.63" height="7.96" fill="#3a537c"/>
<rect x="476.97" y="55" width="13.83" height="7.96" fill="#3a537c"/>
<rect x="407.5" y="62.16" width="14.73" height="7.96" fill="#fdf7f4"/>
<rect x="421.43" y="62.16" width="14.73" height="7.96" fill="#f6f7f9"/>
<rect x="435.37" y="62.16" width="14.73" height="7.96" fill="#fefbf9"/>
<rect x="449.3" y="62.16" width="14.63" height="7.96" fill="#3a537c"/>
<rect x="463.13" y="62.16" width="14.63" height="7.96" fill="#3a537c"/>
<rect x="476.97" y="62.16" width="13.83" height="7.96" fill="#3a537c"/>
<rect x="407.5" y="69.32" width="14.73" height="7.96" fill="#ffffff"/>
<rect x="421.43" y="69.32" width="14.73" height="7.96" fill="#f8f9fa"/>
<rect x="435.37" y="69.32" width="14.73" height="7.96" fill="#dde1e8"/>
<rect x="449.3" y="69.32" width="14.63" height="7.96" fill="#52688c"/>
<rect x="463.13" y="69.32" width="14.63" height="7.96" fill="#3a537c"/>
<rect x="476.97" y="69.32" width="13.83" height="7.96" fill="#3a537c"/>
<rect x="407.5" y="76.48" width="14.73" height="7.96" fill="#f6f7f9"/>
<rect x="421.43" y="76.48" width="14.73" height="7.96" fill="#fdf9f7"/>
<rect x="435.37" y="76.48" width="14.73" height="7.96" fill="#eff1f4"/>
<rect x="449.3" y="76.48" width="14.63" height="7.96" fill="#b8c1d0"/>
<rect x="463.13" y="76.48" width="14.63" height="7.96" fill="#596f91"/>
<rect x="476.97" y="76.48" width="13.83" height="7.96" fill="#3a537c"/>
<rect x="407.5" y="83.64" width="14.73" height="7.96" fill="#fefbf9"/>
<rect x="421.43" y="83.64" width="14.73" height="7.96" fill="#f6f7f9"/>
<rect x="435.37" y="83.64" width="14.73" height="7.96" fill="#d1d7e0"/>
<rect x="449.3" y="83.64" width="14.63" height="7.96" fill="#4d6488"/>
<rect x="463.13" y="83.64" width="14.63" height="7.96" fill="#3e577f"/>
<rect x="476.97" y="83.64" width="13.83" height="7.96" fill="#657999"/>
<rect x="407.5" y="90.8" width="14.73" height="7.96" fill="#fefbf9"/>
<rect x="421.43" y="90.8" width="14.73" height="7.96" fill="#f6f7f9"/>
<rect x="435.37" y="90.8" width="14.73" height="7.96" fill="#f4f5f7"/>
<rect x="449.3" y="90.8" width="14.63" height="7.96" fill="#7d8ea9"/>
<rect x="463.13" y="90.8" width="14.63" height="7.96" fill="#52688c"/>
<rect x="476.97" y="90.8" width="13.83" height="7.96" fill="#657999"/>
<rect x="407.5" y="97.96" width="14.73" height="7.96" fill="#fefbf9"/>
<rect x="421.43" y="97.96" width="14.73" height="7.96" fill="#f6f7f9"/>
<rect x="435.37" y="97.96" width="14.73" height="7.96" fill="#f4f5f7"/>
<rect x="449.3" y="97.96" width="14.63" height="7.96" fill="#7183a1"/>
<rect x="463.13" y="97.96" width="14.63" height="7.96" fill="#8695ae"/>
<rect x="476.97" y="97.96" width="13.83" height="7.96" fill="#4d6488"/>
<rect x="407.5" y="105.12" width="14.73" height="7.96" fill="#fcf6f1"/>
<rect x="421.43" y="105.12" width="14.73" height="7.96" fill="#eff1f4"/>
<rect x="435.37" y="105.12" width="14.73" height="7.96" fill="#ecc1a3"/>
<rect x="449.3" y="105.12" width="14.63" height="7.96" fill="#3e577f"/>
<rect x="463.13" y="105.12" width="14.63" height="7.96" fill="#3e577f"/>
<rect x="476.97" y="105.12" width="13.83" height="7.96" fill="#dc8f59"/>
<rect x="407.5" y="112.28" width="14.73" height="7.96" fill="#d1d7e0"/>
<rect x="421.43" y="112.28" width="14.73" height="7.96" fill="#f6e3d5"/>
<rect x="435.37" y="112.28" width="14.73" height="7.96" fill="#dde1e8"/>
<rect x="449.3" y="112.28" width="14.63" height="7.96" fill="#7d8ea9"/>
<rect x="463.13" y="112.28" width="14.63" height="7.96" fill="#8695ae"/>
<rect x="476.97" y="112.28" width="13.83" height="7.96" fill="#7d8ea9"/>
<rect x="407.5" y="119.44" width="14.73" height="7.96" fill="#e8ebf0"/>
<rect x="421.43" y="119.44" width="14.73" height="7.96" fill="#faf0e9"/>
<rect x="435.37" y="119.44" width="14.73" height="7.96" fill="#f3d9c7"/>
<rect x="449.3" y="119.44" width="14.63" height="7.96" fill="#c1c9d6"/>
<rect x="463.13" y="119.44" width="14.63" height="7.96" fill="#7183a1"/>
<rect x="476.97" y="119.44" width="13.83" height="7.96" fill="#e2e6ec"/>
<rect x="407.5" y="126.6" width="14.73" height="7.96" fill="#fafbfc"/>
<rect x="421.43" y="126.6" width="14.73" height="7.96" fill="#fefdfc"/>
<rect x="435.37" y="126.6" width="14.73" height="7.96" fill="#657999"/>
<rect x="449.3" y="126.6" width="14.63" height="7.96" fill="#aeb8c9"/>
<rect x="463.13" y="126.6" width="14.63" height="7.96" fill="#52688c"/>
<rect x="476.97" y="126.6" width="13.83" height="7.96" fill="#435b82"/>
<rect x="407.5" y="133.76" width="14.73" height="7.96" fill="#fcf6f1"/>
<rect x="421.43" y="133.76" width="14.73" height="7.96" fill="#eff1f4"/>
<rect x="435.37" y="133.76" width="14.73" height="7.96" fill="#e8ebf0"/>
<rect x="449.3" y="133.76" width="14.63" height="7.96" fill="#c7ceda"/>
<rect x="463.13" y="133.76" width="14.63" height="7.96" fill="#8695ae"/>
<rect x="476.97" y="133.76" width="13.83" height="7.96" fill="#657999"/>
<rect x="407.5" y="140.92" width="14.73" height="7.96" fill="#ffffff"/>
<rect x="421.43" y="140.92" width="14.73" height="7.96" fill="#f8f9fa"/>
<rect x="435.37" y="140.92" width="14.73" height="7.96" fill="#f6e3d5"/>
<rect x="449.3" y="140.92" width="14.63" height="7.96" fill="#e2e6ec"/>
<rect x="463.13" y="140.92" width="14.63" height="7.96" fill="#b8c1d0"/>
<rect x="476.97" y="140.92" width="13.83" height="7.96" fill="#8695ae"/>
<rect x="407.5" y="148.08" width="14.73" height="7.96" fill="#dde1e8"/>
<rect x="421.43" y="148.08" width="14.73" height="7.96" fill="#f9ece3"/>
<rect x="435.37" y="148.08" width="14.73" height="7.96" fill="#a2aec1"/>
<rect x="449.3" y="148.08" width="14.63" height="7.96" fill="#7d8ea9"/>
<rect x="463.13" y="148.08" width="14.63" height="7.96" fill="#7183a1"/>
<rect x="476.97" y="148.08" width="13.83" height="7.96" fill="#94a2b8"/>
<rect x="407.5" y="155.24" width="14.73" height="7.96" fill="#d1d7e0"/>
<rect x="421.43" y="155.24" width="14.73" height="7.96" fill="#f3d9c7"/>
<rect x="435.37" y="155.24" width="14.73" height="7.96" fill="#fefbf9"/>
<rect x="449.3" y="155.24" width="14.63" height="7.96" fill="#8b9ab2"/>
<rect x="463.13" y="155.24" width="14.63" height="7.96" fill="#94a2b8"/>
<rect x="476.97" y="155.24" width="13.83" height="7.96" fill="#d6dbe3"/>
<rect x="407.5" y="162.4" width="14.73" height="7.96" fill="#f4f5f7"/>
<rect x="421.43" y="162.4" width="14.73" height="7.96" fill="#fdf7f4"/>
<rect x="435.37" y="162.4" width="14.73" height="7.96" fill="#fdf9f7"/>
<rect x="449.3" y="162.4" width="14.63" height="7.96" fill="#7d8ea9"/>
<rect x="463.13" y="162.4" width="14.63" height="7.96" fill="#aeb8c9"/>
<rect x="476.97" y="162.4" width="13.83" height="7.96" fill="#d6dbe3"/>
<rect x="407.5" y="169.56" width="14.73" height="7.96" fill="#ffffff"/>
<rect x="421.43" y="169.56" width="14.73" height="7.96" fill="#ffffff"/>
<rect x="435.37" y="169.56" width="14.73" height="7.96" fill="#ffffff"/>
<rect x="449.3" y="169.56" width="14.63" height="7.96" fill="#94a2b8"/>
<rect x="463.13" y="169.56" width="14.63" height="7.96" fill="#7d8ea9"/>
<rect x="476.97" y="169.56" width="13.83" height="7.96" fill="#d6dbe3"/>
<rect x="407.5" y="176.72" width="14.73" height="7.96" fill="#faf0e9"/>
<rect x="421.43" y="176.72" width="14.73" height="7.96" fill="#e4e7ed"/>
<rect x="435.37" y="176.72" width="14.73" height="7.96" fill="#f6f7f9"/>
<rect x="449.3" y="176.72" width="14.63" height="7.96" fill="#aeb8c9"/>
<rect x="463.13" y="176.72" width="14.63" height="7.96" fill="#aeb8c9"/>
<rect x="476.97" y="176.72" width="13.83" height="7.96" fill="#94a2b8"/>
<rect x="407.5" y="183.88" width="14.73" height="7.96" fill="#f6f7f9"/>
<rect x="421.43" y="183.88" width="14.73" height="7.96" fill="#fefbf9"/>
<rect x="435.37" y="183.88" width="14.73" height="7.96" fill="#e4e7ed"/>
<rect x="449.3" y="183.88" width="14.63" height="7.96" fill="#8695ae"/>
<rect x="463.13" y="183.88" width="14.63" height="7.96" fill="#8695ae"/>
<rect x="476.97" y="183.88" width="13.83" height="7.96" fill="#a4b0c3"/>
<rect x="407.5" y="191.04" width="14.73" height="7.96" fill="#f6f7f9"/>
<rect x="421.43" y="191.04" width="14.73" height="7.96" fill="#fdf9f7"/>
<rect x="435.37" y="191.04" width="14.73" height="7.96" fill="#f6e3d5"/>
<rect x="449.3" y="191.04" width="14.63" height="7.96" fill="#ffffff"/>
<rect x="463.13" y="191.04" width="14.63" height="7.96" fill="#596f91"/>
<rect x="476.97" y="191.04" width="13.83" height="7.96" fill="#e2e6ec"/>
<rect x="407.5" y="198.2" width="14.73" height="7.96" fill="#fdf7f4"/>
<rect x="421.43" y="198.2" width="14.73" height="7.96" fill="#eff1f4"/>
<rect x="435.37" y="198.2" width="14.73" height="7.96" fill="#c3cbd7"/>
<rect x="449.3" y="198.2" width="14.63" height="7.96" fill="#8695ae"/>
<rect x="463.13" y="198.2" width="14.63" height="7.96" fill="#8695ae"/>
<rect x="476.97" y="198.2" width="13.83" height="7.96" fill="#94a2b8"/>
<rect x="407.5" y="205.36" width="14.73" height="7.96" fill="#f6f7f9"/>
<rect x="421.43" y="205.36" width="14.73" height="7.96" fill="#fdf9f7"/>
<rect x="435.37" y="205.36" width="14.73" height="7.96" fill="#f4f5f7"/>
<rect x="449.3" y="205.36" width="14.63" height="7.96" fill="#94a2b8"/>
<rect x="463.13" y="205.36" width="14.63" height="7.96" fill="#94a2b8"/>
<rect x="476.97" y="205.36" width="13.83" height="7.96" fill="#b8c1d0"/>
<rect x="407.5" y="212.52" width="14.73" height="7.96" fill="#fdf7f4"/>
<rect x="421.43" y="212.52" width="14.73" height="7.96" fill="#f1f3f6"/>
<rect x="435.37" y="212.52" width="14.73" height="7.96" fill="#ffffff"/>
<rect x="449.3" y="212.52" width="14.63" height="7.96" fill="#657999"/>
<rect x="463.13" y="212.52" width="14.63" height="7.96" fill="#657999"/>
<rect x="476.97" y="212.52" width="13.83" height="7.96" fill="#f9ece3"/>
<rect x="407.5" y="219.68" width="14.73" height="7.96" fill="#c3cbd7"/>
<rect x="421.43" y="219.68" width="14.73" height="7.96" fill="#f3d9c7"/>
<rect x="435.37" y="219.68" width="14.73" height="7.96" fill="#b5bfce"/>
<rect x="449.3" y="219.68" width="14.63" height="7.96" fill="#7183a1"/>
<rect x="463.13" y="219.68" width="14.63" height="7.96" fill="#8b9ab2"/>
<rect x="476.97" y="219.68" width="13.83" height="7.96" fill="#8b9ab2"/>
<rect x="407.5" y="226.84" width="14.73" height="7.96" fill="#fdf9f7"/>
<rect x="421.43" y="226.84" width="14.73" height="7.96" fill="#f4f5f7"/>
<rect x="435.37" y="226.84" width="14.73" height="7.96" fill="#e4e7ed"/>
<rect x="449.3" y="226.84" width="14.63" height="7.96" fill="#7183a1"/>
<rect x="463.13" y="226.84" width="14.63" height="7.96" fill="#8695ae"/>
<rect x="476.97" y="226.84" width="13.83" height="7.96" fill="#e2e6ec"/>
<rect x="407.5" y="234" width="14.73" height="7.96" fill="#f4f5f7"/>
<rect x="421.43" y="234" width="14.73" height="7.96" fill="#fdf9f7"/>
<rect x="435.37" y="234" width="14.73" height="7.96" fill="#fbf4ee"/>
<rect x="449.3" y="234" width="14.63" height="7.96" fill="#aeb8c9"/>
<rect x="463.13" y="234" width="14.63" height="7.96" fill="#c7ceda"/>
<rect x="476.97" y="234" width="13.83" height="7.96" fill="#b8c1d0"/>
<rect x="407.5" y="241.16" width="14.73" height="7.96" fill="#dde1e8"/>
<rect x="421.43" y="241.16" width="14.73" height="7.96" fill="#f8e8dd"/>
<rect x="435.37" y="241.16" width="14.73" height="7.96" fill="#dde1e8"/>
<rect x="449.3" y="241.16" width="14.63" height="7.96" fill="#aeb8c9"/>
<rect x="463.13" y="241.16" width="14.63" height="7.96" fill="#a4b0c3"/>
<rect x="476.97" y="241.16" width="13.83" height="7.96" fill="#9eaabe"/>
<rect x="407.5" y="248.32" width="14.73" height="7.96" fill="#fefdfc"/>
<rect x="421.43" y="248.32" width="14.73" height="7.96" fill="#fdfdfd"/>
<rect x="435.37" y="248.32" width="14.73" height="7.96" fill="#657999"/>
<rect x="449.3" y="248.32" width="14.63" height="7.96" fill="#fdf7f4"/>
<rect x="463.13" y="248.32" width="14.63" height="7.96" fill="#52688c"/>
<rect x="476.97" y="248.32" width="13.83" height="7.96" fill="#52688c"/>
<rect x="407.5" y="255.48" width="14.73" height="7.96" fill="#e4e7ed"/>
<rect x="421.43" y="255.48" width="14.73" height="7.96" fill="#faf0e9"/>
<rect x="435.37" y="255.48" width="14.73" height="7.96" fill="#f3d9c7"/>
<rect x="449.3" y="255.48" width="14.63" height="7.96" fill="#d6dbe3"/>
<rect x="463.13" y="255.48" width="14.63" height="7.96" fill="#d6dbe3"/>
<rect x="476.97" y="255.48" width="13.83" height="7.96" fill="#b8c1d0"/>
<rect x="407.5" y="262.64" width="14.73" height="7.96" fill="#fdfdfd"/>
<rect x="421.43" y="262.64" width="14.73" height="7.96" fill="#fefdfc"/>
<rect x="435.37" y="262.64" width="14.73" height="7.96" fill="#f4f5f7"/>
<rect x="449.3" y="262.64" width="14.63" height="7.96" fill="#b8c1d0"/>
<rect x="463.13" y="262.64" width="14.63" height="7.96" fill="#94a2b8"/>
<rect x="476.97" y="262.64" width="13.83" height="7.96" fill="#b8c1d0"/>
<rect x="407.5" y="269.8" width="14.73" height="7.96" fill="#f6f7f9"/>
<rect x="421.43" y="269.8" width="14.73" height="7.96" fill="#fdf9f7"/>
<rect x="435.37" y="269.8" width="14.73" height="7.96" fill="#f4f5f7"/>
<rect x="449.3" y="269.8" width="14.63" height="7.96" fill="#7d8ea9"/>
<rect x="463.13" y="269.8" width="14.63" height="7.96" fill="#7d8ea9"/>
<rect x="476.97" y="269.8" width="13.83" height="7.96" fill="#fbf2eb"/>
<rect x="407.5" y="276.96" width="14.73" height="7.96" fill="#f6f7f9"/>
<rect x="421.43" y="276.96" width="14.73" height="7.96" fill="#fdf9f7"/>
<rect x="435.37" y="276.96" width="14.73" height="7.96" fill="#e4e7ed"/>
<rect x="449.3" y="276.96" width="14.63" height="7.96" fill="#e2e6ec"/>
<rect x="463.13" y="276.96" width="14.63" height="7.96" fill="#7d8ea9"/>
<rect x="476.97" y="276.96" width="13.83" height="7.96" fill="#b8c1d0"/>
<rect x="407.5" y="284.12" width="14.73" height="7.96" fill="#e4e7ed"/>
<rect x="421.43" y="284.12" width="14.73" height="7.96" fill="#f9ece3"/>
<rect x="435.37" y="284.12" width="14.73" height="7.96" fill="#e4e7ed"/>
<rect x="449.3" y="284.12" width="14.63" height="7.96" fill="#94a2b8"/>
<rect x="463.13" y="284.12" width="14.63" height="7.96" fill="#b8c1d0"/>
<rect x="476.97" y="284.12" width="13.83" height="7.96" fill="#b8c1d0"/>
<rect x="407.5" y="291.28" width="14.73" height="7.96" fill="#f1f3f6"/>
<rect x="421.43" y="291.28" width="14.73" height="7.96" fill="#fdf7f4"/>
<rect x="435.37" y="291.28" width="14.73" height="7.96" fill="#ffffff"/>
<rect x="449.3" y="291.28" width="14.63" height="7.96" fill="#8695ae"/>
<rect x="463.13" y="291.28" width="14.63" height="7.96" fill="#b8c1d0"/>
<rect x="476.97" y="291.28" width="13.83" height="7.96" fill="#eef0f3"/>
<rect x="407.5" y="298.44" width="14.73" height="7.96" fill="#fbf4ee"/>
<rect x="421.43" y="298.44" width="14.73" height="7.96" fill="#e4e7ed"/>
<rect x="435.37" y="298.44" width="14.73" height="7.96" fill="#c3cbd7"/>
<rect x="449.3" y="298.44" width="14.63" height="7.96" fill="#9eaabe"/>
<rect x="463.13" y="298.44" width="14.63" height="7.96" fill="#b8c1d0"/>
<rect x="476.97" y="298.44" width="13.83" height="7.96" fill="#8695ae"/>
<rect x="407.5" y="305.6" width="14.73" height="7.96" fill="#fbf4ee"/>
<rect x="421.43" y="305.6" width="14.73" height="7.96" fill="#edeff3"/>
<rect x="435.37" y="305.6" width="14.73" height="7.96" fill="#f6f7f9"/>
<rect x="449.3" y="305.6" width="14.63" height="7.96" fill="#eef0f3"/>
<rect x="463.13" y="305.6" width="14.63" height="7.96" fill="#a4b0c3"/>
<rect x="476.97" y="305.6" width="13.83" height="7.96" fill="#a4b0c3"/>
<rect x="407.5" y="312.76" width="14.73" height="7.96" fill="#f4f5f7"/>
<rect x="421.43" y="312.76" width="14.73" height="7.96" fill="#fdf9f7"/>
<rect x="435.37" y="312.76" width="14.73" height="7.96" fill="#f1f3f6"/>
<rect x="449.3" y="312.76" width="14.63" height="7.96" fill="#c7ceda"/>
<rect x="463.13" y="312.76" width="14.63" height="7.96" fill="#b8c1d0"/>
<rect x="476.97" y="312.76" width="13.83" height="7.96" fill="#b8c1d0"/>
<rect x="407.5" y="319.92" width="14.73" height="7.96" fill="#f6f7f9"/>
<rect x="421.43" y="319.92" width="14.73" height="7.96" fill="#fdf9f7"/>
<rect x="435.37" y="319.92" width="14.73" height="7.96" fill="#f6f7f9"/>
<rect x="449.3" y="319.92" width="14.63" height="7.96" fill="#d6dbe3"/>
<rect x="463.13" y="319.92" width="14.63" height="7.96" fill="#aeb8c9"/>
<rect x="476.97" y="319.92" width="13.83" height="7.96" fill="#eef0f3"/>
<rect x="407.5" y="327.08" width="14.73" height="7.96" fill="#e8ebf0"/>
<rect x="421.43" y="327.08" width="14.73" height="7.96" fill="#faf0e9"/>
<rect x="435.37" y="327.08" width="14.73" height="7.96" fill="#edeff3"/>
<rect x="449.3" y="327.08" width="14.63" height="7.96" fill="#cdd3de"/>
<rect x="463.13" y="327.08" width="14.63" height="7.96" fill="#657999"/>
<rect x="476.97" y="327.08" width="13.83" height="7.96" fill="#f9fafb"/>
<rect x="407.5" y="334.24" width="14.73" height="7.96" fill="#fdf7f4"/>
<rect x="421.43" y="334.24" width="14.73" height="7.96" fill="#f1f3f6"/>
<rect x="435.37" y="334.24" width="14.73" height="7.96" fill="#edeff3"/>
<rect x="449.3" y="334.24" width="14.63" height="7.96" fill="#c7ceda"/>
<rect x="463.13" y="334.24" width="14.63" height="7.96" fill="#c7ceda"/>
<rect x="476.97" y="334.24" width="13.83" height="7.96" fill="#b8c1d0"/>
<rect x="407.5" y="341.4" width="14.73" height="7.96" fill="#dde1e8"/>
<rect x="421.43" y="341.4" width="14.73" height="7.96" fill="#f9ece3"/>
<rect x="435.37" y="341.4" width="14.73" height="7.96" fill="#f8f9fa"/>
<rect x="449.3" y="341.4" width="14.63" height="7.96" fill="#a4b0c3"/>
<rect x="463.13" y="341.4" width="14.63" height="7.96" fill="#b8c1d0"/>
<rect x="476.97" y="341.4" width="13.83" height="7.96" fill="#d6dbe3"/>
<rect x="407.5" y="348.56" width="14.73" height="7.96" fill="#fefbf9"/>
<rect x="421.43" y="348.56" width="14.73" height="7.96" fill="#f8f9fa"/>
<rect x="435.37" y="348.56" width="14.73" height="7.96" fill="#fdf7f4"/>
<rect x="449.3" y="348.56" width="14.63" height="7.96" fill="#c7ceda"/>
<rect x="463.13" y="348.56" width="14.63" height="7.96" fill="#a4b0c3"/>
<rect x="476.97" y="348.56" width="13.83" height="7.96" fill="#e8ebf0"/>
<rect x="407.5" y="355.72" width="14.73" height="7.96" fill="#f4f5f7"/>
<rect x="421.43" y="355.72" width="14.73" height="7.96" fill="#fefbf9"/>
<rect x="435.37" y="355.72" width="14.73" height="7.96" fill="#fdf9f7"/>
<rect x="449.3" y="355.72" width="14.63" height="7.96" fill="#f9fafb"/>
<rect x="463.13" y="355.72" width="14.63" height="7.96" fill="#ffffff"/>
<rect x="476.97" y="355.72" width="13.83" height="7.96" fill="#657999"/>
<rect x="407.5" y="362.88" width="14.73" height="7.96" fill="#fdf9f7"/>
<rect x="421.43" y="362.88" width="14.73" height="7.96" fill="#f8f9fa"/>
<rect x="435.37" y="362.88" width="14.73" height="7.96" fill="#fefbf9"/>
<rect x="449.3" y="362.88" width="14.63" height="7.96" fill="#b8c1d0"/>
<rect x="463.13" y="362.88" width="14.63" height="7.96" fill="#b8c1d0"/>
<rect x="476.97" y="362.88" width="13.83" height="7.96" fill="#d6dbe3"/>
<rect x="407.5" y="370.04" width="14.73" height="7.96" fill="#eff1f4"/>
<rect x="421.43" y="370.04" width="14.73" height="7.96" fill="#fdf7f4"/>
<rect x="435.37" y="370.04" width="14.73" height="7.96" fill="#f9ece3"/>
<rect x="449.3" y="370.04" width="14.63" height="7.96" fill="#c7ceda"/>
<rect x="463.13" y="370.04" width="14.63" height="7.96" fill="#d6dbe3"/>
<rect x="476.97" y="370.04" width="13.83" height="7.96" fill="#d6dbe3"/>
<rect x="407.5" y="377.2" width="14.73" height="7.96" fill="#f4f5f7"/>
<rect x="421.43" y="377.2" width="14.73" height="7.96" fill="#fefbf9"/>
<rect x="435.37" y="377.2" width="14.73" height="7.96" fill="#fdf9f7"/>
<rect x="449.3" y="377.2" width="14.63" height="7.96" fill="#94a2b8"/>
<rect x="463.13" y="377.2" width="14.63" height="7.96" fill="#b8c1d0"/>
<rect x="476.97" y="377.2" width="13.83" height="7.96" fill="#ffffff"/>
<rect x="407.5" y="384.36" width="14.73" height="7.96" fill="#f4f5f7"/>
<rect x="421.43" y="384.36" width="14.73" height="7.96" fill="#fefbf9"/>
<rect x="435.37" y="384.36" width="14.73" height="7.96" fill="#e4e7ed"/>
<rect x="449.3" y="384.36" width="14.63" height="7.96" fill="#b8c1d0"/>
<rect x="463.13" y="384.36" width="14.63" height="7.96" fill="#94a2b8"/>
<rect x="476.97" y="384.36" width="13.83" height="7.96" fill="#dde1e8"/>
<rect x="407.5" y="391.52" width="14.73" height="7.96" fill="#fdf9f7"/>
<rect x="421.43" y="391.52" width="14.73" height="7.96" fill="#f4f5f7"/>
<rect x="435.37" y="391.52" width="14.73" height="7.96" fill="#eff1f4"/>
<rect x="449.3" y="391.52" width="14.63" height="7.96" fill="#e8ebf0"/>
<rect x="463.13" y="391.52" width="14.63" height="7.96" fill="#8695ae"/>
<rect x="476.97" y="391.52" width="13.83" height="7.96" fill="#dde1e8"/>
<rect x="407.5" y="398.68" width="14.73" height="7.96" fill="#e4e7ed"/>
<rect x="421.43" y="398.68" width="14.73" height="7.96" fill="#faf0e9"/>
<rect x="435.37" y="398.68" width="14.73" height="7.96" fill="#fdfdfd"/>
<rect x="449.3" y="398.68" width="14.63" height="7.96" fill="#b8c1d0"/>
<rect x="463.13" y="398.68" width="14.63" height="7.96" fill="#f1f2f5"/>
<rect x="476.97" y="398.68" width="13.83" height="7.96" fill="#b8c1d0"/>
<rect x="407.5" y="405.84" width="14.73" height="7.16" fill="#ffffff"/>
<rect x="421.43" y="405.84" width="14.73" height="7.16" fill="#ffffff"/>
<rect x="435.37" y="405.84" width="14.73" height="7.16" fill="#fdf9f7"/>
<rect x="449.3" y="405.84" width="14.63" height="7.16" fill="#d6dbe3"/>
<rect x="463.13" y="405.84" width="14.63" height="7.16" fill="#b8c1d0"/>
<rect x="476.97" y="405.84" width="13.83" height="7.16" fill="#dde1e8"/>
<rect x="407.5" y="55.4" width="83.3" height="358" fill="none" stroke="#262626" stroke-width="1.2"/>
<rect x="448.55" y="55" width="1.5" height="358.8" fill="#2a2d33"/>
<text x="493.4" y="60.68" font-size="5.5" fill="#2e2e2e" stroke="#2e2e2e" stroke-width="0.08" transform="rotate(0.02 493.4 58.58)">CD135</text>
<text x="493.4" y="67.84" font-size="5.5" fill="#2e2e2e" stroke="#2e2e2e" stroke-width="0.08" transform="rotate(0.02 493.4 65.74)">CD117</text>
<text x="493.4" y="75" font-size="5.5" fill="#2e2e2e" stroke="#2e2e2e" stroke-width="0.08" transform="rotate(0.02 493.4 72.9)">CD184</text>
<text x="493.4" y="82.16" font-size="5.5" fill="#2e2e2e" stroke="#2e2e2e" stroke-width="0.08" transform="rotate(0.02 493.4 80.06)">CD133</text>
<text x="493.4" y="89.32" font-size="5.5" fill="#2e2e2e" stroke="#2e2e2e" stroke-width="0.08" transform="rotate(0.02 493.4 87.22)">CD221</text>
<text x="493.4" y="96.48" font-size="5.5" fill="#2e2e2e" stroke="#2e2e2e" stroke-width="0.08" transform="rotate(0.02 493.4 94.38)">CD62L</text>
<text x="493.4" y="103.64" font-size="5.5" fill="#2e2e2e" stroke="#2e2e2e" stroke-width="0.08" transform="rotate(0.02 493.4 101.54)">CD361</text>
<text x="493.4" y="110.8" font-size="5.5" fill="#2e2e2e" stroke="#2e2e2e" stroke-width="0.08" transform="rotate(0.02 493.4 108.7)">CD62P</text>
<text x="493.4" y="117.96" font-size="5.5" fill="#2e2e2e" stroke="#2e2e2e" stroke-width="0.08" transform="rotate(0.02 493.4 115.86)">CD325</text>
<text x="493.4" y="125.12" font-size="5.5" fill="#2e2e2e" stroke="#2e2e2e" stroke-width="0.08" transform="rotate(0.02 493.4 123.02)">CD283</text>
<text x="493.4" y="132.28" font-size="5.5" fill="#2e2e2e" stroke="#2e2e2e" stroke-width="0.08" transform="rotate(0.02 493.4 130.18)">CD48</text>
<text x="493.4" y="139.44" font-size="5.5" fill="#2e2e2e" stroke="#2e2e2e" stroke-width="0.08" transform="rotate(0.02 493.4 137.34)">CD53</text>
<text x="493.4" y="146.6" font-size="5.5" fill="#2e2e2e" stroke="#2e2e2e" stroke-width="0.08" transform="rotate(0.02 493.4 144.5)">CD339</text>
<text x="493.4" y="153.76" font-size="5.5" fill="#2e2e2e" stroke="#2e2e2e" stroke-width="0.08" transform="rotate(0.02 493.4 151.66)">CD22</text>
<text x="493.4" y="160.92" font-size="5.5" fill="#2e2e2e" stroke="#2e2e2e" stroke-width="0.08" transform="rotate(0.02 493.4 158.82)">CD322</text>
<text x="493.4" y="168.08" font-size="5.5" fill="#2e2e2e" stroke="#2e2e2e" stroke-width="0.08" transform="rotate(0.02 493.4 165.98)">CD243</text>
<text x="493.4" y="175.24" font-size="5.5" fill="#2e2e2e" stroke="#2e2e2e" stroke-width="0.08" transform="rotate(0.02 493.4 173.14)">CD107b</text>
<text x="493.4" y="182.4" font-size="5.5" fill="#2e2e2e" stroke="#2e2e2e" stroke-width="0.08" transform="rotate(0.02 493.4 180.3)">CD120b</text>
<text x="493.4" y="189.56" font-size="5.5" fill="#2e2e2e" stroke="#2e2e2e" stroke-width="0.08" transform="rotate(0.02 493.4 187.46)">CD91</text>
<text x="493.4" y="196.72" font-size="5.5" fill="#2e2e2e" stroke="#2e2e2e" stroke-width="0.08" transform="rotate(0.02 493.4 194.62)">CD172a</text>
<text x="493.4" y="203.88" font-size="5.5" fill="#2e2e2e" stroke="#2e2e2e" stroke-width="0.08" transform="rotate(0.02 493.4 201.78)">CD232</text>
<text x="493.4" y="211.04" font-size="5.5" fill="#2e2e2e" stroke="#2e2e2e" stroke-width="0.08" transform="rotate(0.02 493.4 208.94)">CD164</text>
<text x="493.4" y="218.2" font-size="5.5" fill="#2e2e2e" stroke="#2e2e2e" stroke-width="0.08" transform="rotate(0.02 493.4 216.1)">CD110</text>
<text x="493.4" y="225.36" font-size="5.5" fill="#2e2e2e" stroke="#2e2e2e" stroke-width="0.08" transform="rotate(0.02 493.4 223.26)">CD35</text>
<text x="493.4" y="232.52" font-size="5.5" fill="#2e2e2e" stroke="#2e2e2e" stroke-width="0.08" transform="rotate(0.02 493.4 230.42)">CD220</text>
<text x="493.4" y="239.68" font-size="5.5" fill="#2e2e2e" stroke="#2e2e2e" stroke-width="0.08" transform="rotate(0.02 493.4 237.58)">CD45</text>
<text x="493.4" y="246.84" font-size="5.5" fill="#2e2e2e" stroke="#2e2e2e" stroke-width="0.08" transform="rotate(0.02 493.4 244.74)">CD235b</text>
<text x="493.4" y="254" font-size="5.5" fill="#2e2e2e" stroke="#2e2e2e" stroke-width="0.08" transform="rotate(0.02 493.4 251.9)">CD85I</text>
<text x="493.4" y="261.16" font-size="5.5" fill="#2e2e2e" stroke="#2e2e2e" stroke-width="0.08" transform="rotate(0.02 493.4 259.06)">CD273</text>
<text x="493.4" y="268.32" font-size="5.5" fill="#2e2e2e" stroke="#2e2e2e" stroke-width="0.08" transform="rotate(0.02 493.4 266.22)">CD317</text>
<text x="493.4" y="275.48" font-size="5.5" fill="#2e2e2e" stroke="#2e2e2e" stroke-width="0.08" transform="rotate(0.02 493.4 273.38)">CD300a</text>
<text x="493.4" y="282.64" font-size="5.5" fill="#2e2e2e" stroke="#2e2e2e" stroke-width="0.08" transform="rotate(0.02 493.4 280.54)">CD50</text>
<text x="493.4" y="289.8" font-size="5.5" fill="#2e2e2e" stroke="#2e2e2e" stroke-width="0.08" transform="rotate(0.02 493.4 287.7)">CD286</text>
<text x="493.4" y="296.96" font-size="5.5" fill="#2e2e2e" stroke="#2e2e2e" stroke-width="0.08" transform="rotate(0.02 493.4 294.86)">CD109</text>
<text x="493.4" y="304.12" font-size="5.5" fill="#2e2e2e" stroke="#2e2e2e" stroke-width="0.08" transform="rotate(0.02 493.4 302.02)">CD331</text>
<text x="493.4" y="311.28" font-size="5.5" fill="#2e2e2e" stroke="#2e2e2e" stroke-width="0.08" transform="rotate(0.02 493.4 309.18)">CD126</text>
<text x="493.4" y="318.44" font-size="5.5" fill="#2e2e2e" stroke="#2e2e2e" stroke-width="0.08" transform="rotate(0.02 493.4 316.34)">CD179a</text>
<text x="493.4" y="325.6" font-size="5.5" fill="#2e2e2e" stroke="#2e2e2e" stroke-width="0.08" transform="rotate(0.02 493.4 323.5)">CD236</text>
<text x="493.4" y="332.76" font-size="5.5" fill="#2e2e2e" stroke="#2e2e2e" stroke-width="0.08" transform="rotate(0.02 493.4 330.66)">CD132</text>
<text x="493.4" y="339.92" font-size="5.5" fill="#2e2e2e" stroke="#2e2e2e" stroke-width="0.08" transform="rotate(0.02 493.4 337.82)">CD4</text>
<text x="493.4" y="347.08" font-size="5.5" fill="#2e2e2e" stroke="#2e2e2e" stroke-width="0.08" transform="rotate(0.02 493.4 344.98)">CD13</text>
<text x="493.4" y="354.24" font-size="5.5" fill="#2e2e2e" stroke="#2e2e2e" stroke-width="0.08" transform="rotate(0.02 493.4 352.14)">CD59</text>
<text x="493.4" y="361.4" font-size="5.5" fill="#2e2e2e" stroke="#2e2e2e" stroke-width="0.08" transform="rotate(0.02 493.4 359.3)">CD44</text>
<text x="493.4" y="368.56" font-size="5.5" fill="#2e2e2e" stroke="#2e2e2e" stroke-width="0.08" transform="rotate(0.02 493.4 366.46)">CD143</text>
<text x="493.4" y="375.72" font-size="5.5" fill="#2e2e2e" stroke="#2e2e2e" stroke-width="0.08" transform="rotate(0.02 493.4 373.62)">CD58</text>
<text x="493.4" y="382.88" font-size="5.5" fill="#2e2e2e" stroke="#2e2e2e" stroke-width="0.08" transform="rotate(0.02 493.4 380.78)">CD49f</text>
<text x="493.4" y="390.04" font-size="5.5" fill="#2e2e2e" stroke="#2e2e2e" stroke-width="0.08" transform="rotate(0.02 493.4 387.94)">CD166</text>
<text x="493.4" y="397.2" font-size="5.5" fill="#2e2e2e" stroke="#2e2e2e" stroke-width="0.08" transform="rotate(0.02 493.4 395.1)">CD105</text>
<text x="493.4" y="404.36" font-size="5.5" fill="#2e2e2e" stroke="#2e2e2e" stroke-width="0.08" transform="rotate(0.02 493.4 402.26)">CD197</text>
<text x="493.4" y="411.52" font-size="5.5" fill="#2e2e2e" stroke="#2e2e2e" stroke-width="0.08" transform="rotate(0.02 493.4 409.42)">CD97</text>
</svg></body></html>
